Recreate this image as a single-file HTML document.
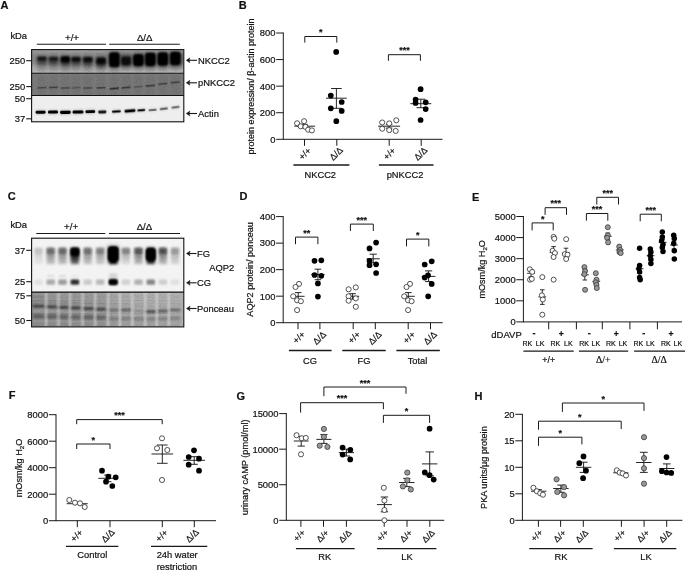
<!DOCTYPE html>
<html><head><meta charset="utf-8"><title>Figure</title>
<style>
html,body{margin:0;padding:0;background:#fff;}
body{width:685px;height:570px;overflow:hidden;font-family:"Liberation Sans",sans-serif;}
svg{display:block;will-change:transform;}
svg text{font-family:"Liberation Sans",sans-serif;fill:#111;stroke:#111;stroke-width:0.2px;}
</style></head><body>
<svg width="685" height="570" viewBox="0 0 685 570">
<defs>
<filter id="b1" x="-50%" y="-50%" width="200%" height="200%"><feGaussianBlur stdDeviation="1"/></filter>
<filter id="b15" x="-50%" y="-50%" width="200%" height="200%"><feGaussianBlur stdDeviation="1.5"/></filter>
<filter id="b2" x="-50%" y="-50%" width="200%" height="200%"><feGaussianBlur stdDeviation="2.2"/></filter>
<filter id="b05" x="-50%" y="-50%" width="200%" height="200%"><feGaussianBlur stdDeviation="0.6"/></filter>
<filter id="b07" x="-50%" y="-50%" width="200%" height="200%"><feGaussianBlur stdDeviation="0.8"/></filter>
<filter id="nz" x="0" y="0" width="100%" height="100%"><feTurbulence type="fractalNoise" baseFrequency="0.8" numOctaves="2" seed="7"/><feColorMatrix type="matrix" values="0 0 0 0 0  0 0 0 0 0  0 0 0 0 0  1.6 0 0 0 -0.45"/></filter>
<filter id="nzw" x="0" y="0" width="100%" height="100%"><feTurbulence type="fractalNoise" baseFrequency="0.8" numOctaves="2" seed="11"/><feColorMatrix type="matrix" values="0 0 0 0 1  0 0 0 0 1  0 0 0 0 1  1.6 0 0 0 -0.45"/></filter>
<linearGradient id="gA1" x1="0" y1="0" x2="0" y2="1"><stop offset="0" stop-color="#a2a2a2"/><stop offset="0.5" stop-color="#a8a8a8"/><stop offset="1" stop-color="#bdbdbd"/></linearGradient>
<linearGradient id="gP" x1="0" y1="0" x2="1" y2="0"><stop offset="0" stop-color="#989898"/><stop offset="0.45" stop-color="#9e9e9e"/><stop offset="0.58" stop-color="#b0b0b0"/><stop offset="1" stop-color="#b6b6b6"/></linearGradient>
<clipPath id="cA1"><rect x="32" y="50" width="151.5" height="23"/></clipPath>
<clipPath id="cA2"><rect x="32" y="73.5" width="151.5" height="22"/></clipPath>
<clipPath id="cA3"><rect x="32" y="95.5" width="151.5" height="26"/></clipPath>
<clipPath id="cC1"><rect x="32" y="238.5" width="151.5" height="53.5"/></clipPath>
<clipPath id="cC2"><rect x="32" y="292" width="151.5" height="34.8"/></clipPath>
</defs>
<rect width="685" height="570" fill="#fff"/>

<text x="0.6" y="8.9" font-size="11.0" font-weight="bold">A</text>
<text x="238.7" y="8.6" font-size="11.0" font-weight="bold">B</text>
<text x="7.7" y="200.4" font-size="11.0" font-weight="bold">C</text>
<text x="239.4" y="200.4" font-size="11.0" font-weight="bold">D</text>
<text x="472.0" y="200.6" font-size="11.0" font-weight="bold">E</text>
<text x="8.8" y="399.4" font-size="11.0" font-weight="bold">F</text>
<text x="236.6" y="400.0" font-size="11.0" font-weight="bold">G</text>
<text x="474.4" y="400.0" font-size="11.0" font-weight="bold">H</text>
<g id="panelA">
<text x="10.4" y="38.9" font-size="9.4">kDa</text>
<text x="72" y="41.3" font-size="9.8" text-anchor="middle">+/+</text>
<text x="144.7" y="41.3" font-size="9.6" text-anchor="middle">&#916;/&#916;</text>
<line x1="36.8" y1="44.3" x2="106" y2="44.3" stroke="#1a1a1a" stroke-width="1.1"/>
<line x1="109.2" y1="44.3" x2="179.8" y2="44.3" stroke="#1a1a1a" stroke-width="1.1"/>
<rect x="32" y="50" width="151.5" height="23.3" fill="url(#gA1)"/>
<rect x="32" y="73.3" width="151.5" height="22.2" fill="#7c7c7c"/>
<rect x="32" y="95.5" width="151.5" height="26" fill="#eeeeee"/>
<g clip-path="url(#cA1)">
<rect x="30" y="53" width="80" height="12" fill="#000" opacity="0.16" filter="url(#b2)"/>
<rect x="37.2" y="56" width="9.6" height="15" fill="#000" opacity="0.21" filter="url(#b2)"/>
<rect x="37.3" y="57.2" width="9.4" height="7.5" fill="#000" opacity="0.35" filter="url(#b15)"/>
<rect x="37.3" y="56.7" width="9.4" height="3.8" rx="1.5" fill="#000" opacity="0.80" filter="url(#b1)"/>
<rect x="48.7" y="56" width="9.6" height="15" fill="#000" opacity="0.22" filter="url(#b2)"/>
<rect x="48.8" y="57.4" width="9.4" height="7.5" fill="#000" opacity="0.36" filter="url(#b15)"/>
<rect x="48.8" y="56.9" width="9.4" height="3.8" rx="1.5" fill="#000" opacity="0.72" filter="url(#b1)"/>
<rect x="60.5" y="56" width="9.6" height="15" fill="#000" opacity="0.28" filter="url(#b2)"/>
<rect x="60.599999999999994" y="57.9" width="9.4" height="7.5" fill="#000" opacity="0.46" filter="url(#b15)"/>
<rect x="60.599999999999994" y="56.3" width="9.4" height="6.0" rx="1.5" fill="#000" opacity="1.00" filter="url(#b1)"/>
<rect x="71.2" y="56" width="9.6" height="15" fill="#000" opacity="0.23" filter="url(#b2)"/>
<rect x="71.3" y="57.800000000000004" width="9.4" height="7.5" fill="#000" opacity="0.39" filter="url(#b15)"/>
<rect x="71.3" y="57.0" width="9.4" height="4.4" rx="1.5" fill="#000" opacity="0.86" filter="url(#b1)"/>
<rect x="83.0" y="56" width="9.6" height="15" fill="#000" opacity="0.25" filter="url(#b2)"/>
<rect x="83.1" y="58.2" width="9.4" height="7.5" fill="#000" opacity="0.42" filter="url(#b15)"/>
<rect x="83.1" y="57.1" width="9.4" height="5.0" rx="1.5" fill="#000" opacity="0.84" filter="url(#b1)"/>
<rect x="96.2" y="56" width="9.6" height="15" fill="#000" opacity="0.31" filter="url(#b2)"/>
<rect x="96.3" y="59.2" width="9.4" height="7.5" fill="#000" opacity="0.52" filter="url(#b15)"/>
<rect x="96.3" y="57.4" width="9.4" height="6.4" rx="1.5" fill="#000" opacity="0.90" filter="url(#b1)"/>
<rect x="108.5" y="53" width="76" height="13" fill="#000" opacity="0.36" filter="url(#b2)"/>
<rect x="109.4" y="52.6" width="10.0" height="18.4" fill="#000" opacity="0.32" filter="url(#b2)"/>
<rect x="109.4" y="52.6" width="10.0" height="14.4" rx="2" fill="#000" opacity="1.0" filter="url(#b1)"/>
<rect x="109.80000000000001" y="53.4" width="9.2" height="12.2" rx="2" fill="#000" opacity="0.9" filter="url(#b07)"/>
<rect x="121.0" y="56.4" width="10.0" height="13.2" fill="#000" opacity="0.32" filter="url(#b2)"/>
<rect x="121.0" y="56.4" width="10.0" height="9.2" rx="2" fill="#000" opacity="0.82" filter="url(#b1)"/>
<rect x="133.4" y="54.4" width="10.0" height="15.6" fill="#000" opacity="0.32" filter="url(#b2)"/>
<rect x="133.4" y="54.4" width="10.0" height="11.6" rx="2" fill="#000" opacity="1.0" filter="url(#b1)"/>
<rect x="133.8" y="55.199999999999996" width="9.2" height="9.399999999999999" rx="2" fill="#000" opacity="0.9" filter="url(#b07)"/>
<rect x="145.3" y="53.0" width="10.0" height="17.0" fill="#000" opacity="0.32" filter="url(#b2)"/>
<rect x="145.3" y="53.0" width="10.0" height="13.0" rx="2" fill="#000" opacity="1.0" filter="url(#b1)"/>
<rect x="145.70000000000002" y="53.8" width="9.2" height="10.8" rx="2" fill="#000" opacity="0.9" filter="url(#b07)"/>
<rect x="157.8" y="52.6" width="10.0" height="17.0" fill="#000" opacity="0.32" filter="url(#b2)"/>
<rect x="157.8" y="52.6" width="10.0" height="13.0" rx="2" fill="#000" opacity="1.0" filter="url(#b1)"/>
<rect x="158.20000000000002" y="53.4" width="9.2" height="10.8" rx="2" fill="#000" opacity="0.9" filter="url(#b07)"/>
<rect x="170.3" y="52.0" width="10.0" height="17.0" fill="#000" opacity="0.32" filter="url(#b2)"/>
<rect x="170.3" y="52.0" width="10.0" height="13.0" rx="2" fill="#000" opacity="1.0" filter="url(#b1)"/>
<rect x="170.70000000000002" y="52.8" width="9.2" height="10.8" rx="2" fill="#000" opacity="0.9" filter="url(#b07)"/>
<rect x="46.85" y="50" width="1.8" height="24" fill="#fff" opacity="0.10" filter="url(#b07)"/>
<rect x="58.5" y="50" width="1.8" height="24" fill="#fff" opacity="0.10" filter="url(#b07)"/>
<rect x="69.75" y="50" width="1.8" height="24" fill="#fff" opacity="0.10" filter="url(#b07)"/>
<rect x="81.0" y="50" width="1.8" height="24" fill="#fff" opacity="0.10" filter="url(#b07)"/>
<rect x="93.5" y="50" width="1.8" height="24" fill="#fff" opacity="0.10" filter="url(#b07)"/>
<rect x="106.8" y="50" width="1.8" height="24" fill="#fff" opacity="0.10" filter="url(#b07)"/>
<rect x="119.3" y="50" width="1.8" height="24" fill="#fff" opacity="0.10" filter="url(#b07)"/>
<rect x="131.29999999999998" y="50" width="1.8" height="24" fill="#fff" opacity="0.10" filter="url(#b07)"/>
<rect x="143.45000000000002" y="50" width="1.8" height="24" fill="#fff" opacity="0.10" filter="url(#b07)"/>
<rect x="155.65" y="50" width="1.8" height="24" fill="#fff" opacity="0.10" filter="url(#b07)"/>
<rect x="168.15" y="50" width="1.8" height="24" fill="#fff" opacity="0.10" filter="url(#b07)"/>
<rect x="32" y="50" width="152" height="24" filter="url(#nz)" opacity="0.12"/>
</g>
<g clip-path="url(#cA2)">
<rect x="37.4" y="86.9" width="9.2" height="1.6" fill="#111" opacity="0.44" filter="url(#b05)" transform="rotate(-3 42 87.7)"/>
<rect x="37.5" y="75" width="9" height="20" fill="#000" opacity="0.05" filter="url(#b1)"/>
<rect x="48.9" y="86.60000000000001" width="9.2" height="1.6" fill="#111" opacity="0.50" filter="url(#b05)" transform="rotate(-3 53.5 87.4)"/>
<rect x="49.0" y="75" width="9" height="20" fill="#000" opacity="0.05" filter="url(#b1)"/>
<rect x="60.699999999999996" y="87.2" width="9.2" height="1.6" fill="#111" opacity="0.44" filter="url(#b05)" transform="rotate(-3 65.3 88.0)"/>
<rect x="60.8" y="75" width="9" height="20" fill="#000" opacity="0.05" filter="url(#b1)"/>
<rect x="71.4" y="86.8" width="9.2" height="1.6" fill="#111" opacity="0.31" filter="url(#b05)" transform="rotate(-3 76 87.6)"/>
<rect x="71.5" y="75" width="9" height="20" fill="#000" opacity="0.05" filter="url(#b1)"/>
<rect x="83.2" y="87.2" width="9.2" height="1.6" fill="#111" opacity="0.44" filter="url(#b05)" transform="rotate(-3 87.8 88.0)"/>
<rect x="83.3" y="75" width="9" height="20" fill="#000" opacity="0.05" filter="url(#b1)"/>
<rect x="96.4" y="87.0" width="9.2" height="1.6" fill="#111" opacity="0.53" filter="url(#b05)" transform="rotate(-3 101 87.8)"/>
<rect x="96.5" y="75" width="9" height="20" fill="#000" opacity="0.05" filter="url(#b1)"/>
<rect x="109.80000000000001" y="87.7" width="9.2" height="1.6" fill="#111" opacity="0.75" filter="url(#b05)" transform="rotate(-6 114.4 88.5)"/>
<rect x="109.9" y="75" width="9" height="20" fill="#000" opacity="0.05" filter="url(#b1)"/>
<rect x="121.4" y="86.8" width="9.2" height="1.6" fill="#111" opacity="0.62" filter="url(#b05)" transform="rotate(-6 126 87.6)"/>
<rect x="121.5" y="75" width="9" height="20" fill="#000" opacity="0.05" filter="url(#b1)"/>
<rect x="133.8" y="86.0" width="9.2" height="1.6" fill="#111" opacity="0.31" filter="url(#b05)" transform="rotate(-6 138.4 86.8)"/>
<rect x="133.9" y="75" width="9" height="20" fill="#000" opacity="0.05" filter="url(#b1)"/>
<rect x="145.70000000000002" y="84.9" width="9.2" height="1.6" fill="#111" opacity="0.62" filter="url(#b05)" transform="rotate(-6 150.3 85.7)"/>
<rect x="145.8" y="75" width="9" height="20" fill="#000" opacity="0.05" filter="url(#b1)"/>
<rect x="158.20000000000002" y="83.0" width="9.2" height="1.6" fill="#111" opacity="0.50" filter="url(#b05)" transform="rotate(-6 162.8 83.8)"/>
<rect x="158.3" y="75" width="9" height="20" fill="#000" opacity="0.05" filter="url(#b1)"/>
<rect x="170.70000000000002" y="81.60000000000001" width="9.2" height="1.6" fill="#111" opacity="0.53" filter="url(#b05)" transform="rotate(-6 175.3 82.4)"/>
<rect x="170.8" y="75" width="9" height="20" fill="#000" opacity="0.05" filter="url(#b1)"/>
<rect x="32" y="73" width="152" height="23" filter="url(#nz)" opacity="0.12"/>
<rect x="32" y="73" width="152" height="23" filter="url(#nzw)" opacity="0.06"/>
</g>
<g clip-path="url(#cA3)">
<rect x="35.6" y="110.7" width="10" height="3.0" rx="1.4" fill="#000" opacity="1.0" filter="url(#b05)" transform="rotate(-1 40.6 112.2)"/>
<rect x="35.6" y="110.10000000000001" width="10" height="4.2" rx="1.4" fill="#000" opacity="0.25" filter="url(#b1)" transform="rotate(-1 40.6 112.2)"/>
<rect x="48.0" y="110.6" width="10" height="3.0" rx="1.4" fill="#000" opacity="1.0" filter="url(#b05)" transform="rotate(-1 53 112.1)"/>
<rect x="48.0" y="110.0" width="10" height="4.2" rx="1.4" fill="#000" opacity="0.25" filter="url(#b1)" transform="rotate(-1 53 112.1)"/>
<rect x="60.10000000000001" y="110.64999999999999" width="10.6" height="3.3" rx="1.4" fill="#000" opacity="1.0" filter="url(#b05)" transform="rotate(-1 65.4 112.3)"/>
<rect x="60.10000000000001" y="110.05" width="10.6" height="4.5" rx="1.4" fill="#000" opacity="0.25" filter="url(#b1)" transform="rotate(-1 65.4 112.3)"/>
<rect x="72.6" y="110.4" width="10.8" height="3.2" rx="1.4" fill="#000" opacity="1.0" filter="url(#b05)" transform="rotate(-1 78 112.0)"/>
<rect x="72.6" y="109.80000000000001" width="10.8" height="4.4" rx="1.4" fill="#000" opacity="0.25" filter="url(#b1)" transform="rotate(-1 78 112.0)"/>
<rect x="85.39999999999999" y="110.14999999999999" width="9.8" height="2.9" rx="1.4" fill="#000" opacity="1.0" filter="url(#b05)" transform="rotate(-2 90.3 111.6)"/>
<rect x="85.39999999999999" y="109.55" width="9.8" height="4.1" rx="1.4" fill="#000" opacity="0.25" filter="url(#b1)" transform="rotate(-2 90.3 111.6)"/>
<rect x="98.2" y="110.4" width="8.2" height="3.0" rx="1.4" fill="#000" opacity="0.85" filter="url(#b05)" transform="rotate(-2 102.3 111.9)"/>
<rect x="98.2" y="109.80000000000001" width="8.2" height="4.2" rx="1.4" fill="#000" opacity="0.21" filter="url(#b1)" transform="rotate(-2 102.3 111.9)"/>
<rect x="111.9" y="110.4" width="9.0" height="2.0" rx="1.4" fill="#000" opacity="1.0" filter="url(#b05)" transform="rotate(-4 116.4 111.4)"/>
<rect x="111.9" y="109.80000000000001" width="9.0" height="3.2" rx="1.4" fill="#000" opacity="0.25" filter="url(#b1)" transform="rotate(-4 116.4 111.4)"/>
<rect x="124.5" y="109.5" width="11.0" height="2.8" rx="1.4" fill="#000" opacity="1.0" filter="url(#b05)" transform="rotate(-5 130 110.9)"/>
<rect x="124.5" y="108.9" width="11.0" height="4.0" rx="1.4" fill="#000" opacity="0.25" filter="url(#b1)" transform="rotate(-5 130 110.9)"/>
<rect x="137.3" y="109.35" width="8" height="1.9" rx="1.4" fill="#000" opacity="0.95" filter="url(#b05)" transform="rotate(-5 141.3 110.3)"/>
<rect x="137.3" y="108.75" width="8" height="3.0999999999999996" rx="1.4" fill="#000" opacity="0.24" filter="url(#b1)" transform="rotate(-5 141.3 110.3)"/>
<rect x="148.4" y="108.9" width="8.4" height="2.0" rx="1.4" fill="#000" opacity="0.5" filter="url(#b05)" transform="rotate(-5 152.6 109.9)"/>
<rect x="148.4" y="108.30000000000001" width="8.4" height="3.2" rx="1.4" fill="#000" opacity="0.12" filter="url(#b1)" transform="rotate(-5 152.6 109.9)"/>
<rect x="159.60000000000002" y="107.7" width="8.4" height="2.0" rx="1.4" fill="#000" opacity="0.55" filter="url(#b05)" transform="rotate(-7 163.8 108.7)"/>
<rect x="159.60000000000002" y="107.10000000000001" width="8.4" height="3.2" rx="1.4" fill="#000" opacity="0.14" filter="url(#b1)" transform="rotate(-7 163.8 108.7)"/>
<rect x="171.3" y="106.3" width="8.4" height="2.0" rx="1.4" fill="#000" opacity="0.5" filter="url(#b05)" transform="rotate(-7 175.5 107.3)"/>
<rect x="171.3" y="105.7" width="8.4" height="3.2" rx="1.4" fill="#000" opacity="0.12" filter="url(#b1)" transform="rotate(-7 175.5 107.3)"/>
</g>
<rect x="31.6" y="49.6" width="152.2" height="72.2" fill="none" stroke="#111" stroke-width="1.1"/>
<line x1="31.6" y1="73.3" x2="183.8" y2="73.3" stroke="#111" stroke-width="1.1"/>
<line x1="31.6" y1="95.5" x2="183.8" y2="95.5" stroke="#111" stroke-width="1.1"/>
<line x1="26.2" y1="60.7" x2="31.6" y2="60.7" stroke="#1a1a1a" stroke-width="1.1"/>
<text x="25.2" y="64.0" font-size="9.4" text-anchor="end">250</text>
<line x1="26.2" y1="86.6" x2="31.6" y2="86.6" stroke="#1a1a1a" stroke-width="1.1"/>
<text x="25.2" y="89.89999999999999" font-size="9.4" text-anchor="end">250</text>
<line x1="26.2" y1="98.7" x2="31.6" y2="98.7" stroke="#1a1a1a" stroke-width="1.1"/>
<text x="25.2" y="102.0" font-size="9.4" text-anchor="end">50</text>
<line x1="26.2" y1="118.8" x2="31.6" y2="118.8" stroke="#1a1a1a" stroke-width="1.1"/>
<text x="25.2" y="122.1" font-size="9.4" text-anchor="end">37</text>
<line x1="187.7" y1="60.3" x2="197" y2="60.3" stroke="#1a1a1a" stroke-width="1.1"/>
<path d="M186.2,60.3 L189.89999999999998,57.8 L189.2,60.3 L189.89999999999998,62.8 Z" fill="#1a1a1a" stroke="#1a1a1a" stroke-width="0.4" stroke-linejoin="round"/>
<text x="198" y="63.6" font-size="9.4">NKCC2</text>
<line x1="187.7" y1="82.8" x2="197" y2="82.8" stroke="#1a1a1a" stroke-width="1.1"/>
<path d="M186.2,82.8 L189.89999999999998,80.3 L189.2,82.8 L189.89999999999998,85.3 Z" fill="#1a1a1a" stroke="#1a1a1a" stroke-width="0.4" stroke-linejoin="round"/>
<text x="198" y="86.1" font-size="9.4">pNKCC2</text>
<line x1="187.7" y1="113.5" x2="197" y2="113.5" stroke="#1a1a1a" stroke-width="1.1"/>
<path d="M186.2,113.5 L189.89999999999998,111.0 L189.2,113.5 L189.89999999999998,116.0 Z" fill="#1a1a1a" stroke="#1a1a1a" stroke-width="0.4" stroke-linejoin="round"/>
<text x="198" y="116.8" font-size="9.4">Actin</text>
</g>
<g id="panelB">
<line x1="283.3" y1="32.5" x2="283.3" y2="139.8" stroke="#1a1a1a" stroke-width="1"/>
<line x1="276.2" y1="33.0" x2="283.3" y2="33.0" stroke="#1a1a1a" stroke-width="1"/>
<text x="275.5" y="36.35" font-size="9.4" text-anchor="end">800</text>
<line x1="276.2" y1="59.575" x2="283.3" y2="59.575" stroke="#1a1a1a" stroke-width="1"/>
<text x="275.5" y="62.925000000000004" font-size="9.4" text-anchor="end">600</text>
<line x1="276.2" y1="86.15" x2="283.3" y2="86.15" stroke="#1a1a1a" stroke-width="1"/>
<text x="275.5" y="89.5" font-size="9.4" text-anchor="end">400</text>
<line x1="276.2" y1="112.72500000000001" x2="283.3" y2="112.72500000000001" stroke="#1a1a1a" stroke-width="1"/>
<text x="275.5" y="116.075" font-size="9.4" text-anchor="end">200</text>
<line x1="276.2" y1="139.3" x2="283.3" y2="139.3" stroke="#1a1a1a" stroke-width="1"/>
<text x="275.5" y="142.65" font-size="9.4" text-anchor="end">0</text>
<line x1="283.3" y1="139.3" x2="442.5" y2="139.3" stroke="#1a1a1a" stroke-width="1"/>
<line x1="304.5" y1="139.3" x2="304.5" y2="145.8" stroke="#1a1a1a" stroke-width="1"/>
<line x1="336.8" y1="139.3" x2="336.8" y2="145.8" stroke="#1a1a1a" stroke-width="1"/>
<line x1="389.2" y1="139.3" x2="389.2" y2="145.8" stroke="#1a1a1a" stroke-width="1"/>
<line x1="421.2" y1="139.3" x2="421.2" y2="145.8" stroke="#1a1a1a" stroke-width="1"/>
<text x="253.8" y="86.45" font-size="9.02" text-anchor="middle" transform="rotate(-90 253.8 86.45)">protein expression/ &#946;-actin protein</text>
<line x1="294.3" y1="126.2" x2="315.09999999999997" y2="126.2" stroke="#1a1a1a" stroke-width="0.95"/>
<line x1="304.7" y1="124.4" x2="304.7" y2="128.0" stroke="#1a1a1a" stroke-width="0.95"/>
<line x1="301.7" y1="124.4" x2="307.7" y2="124.4" stroke="#1a1a1a" stroke-width="0.95"/>
<line x1="301.7" y1="128.0" x2="307.7" y2="128.0" stroke="#1a1a1a" stroke-width="0.95"/>
<circle cx="297.1" cy="123.3" r="2.55" fill="#fff" stroke="#2a2a2a" stroke-width="0.8"/>
<circle cx="304.1" cy="121.2" r="2.55" fill="#fff" stroke="#2a2a2a" stroke-width="0.8"/>
<circle cx="300.7" cy="126.3" r="2.55" fill="#fff" stroke="#2a2a2a" stroke-width="0.8"/>
<circle cx="305.4" cy="126.9" r="2.55" fill="#fff" stroke="#2a2a2a" stroke-width="0.8"/>
<circle cx="308.2" cy="129.7" r="2.55" fill="#fff" stroke="#2a2a2a" stroke-width="0.8"/>
<circle cx="311.9" cy="130.4" r="2.55" fill="#fff" stroke="#2a2a2a" stroke-width="0.8"/>
<line x1="326.0" y1="98.2" x2="346.79999999999995" y2="98.2" stroke="#1a1a1a" stroke-width="0.95"/>
<line x1="336.4" y1="88.5" x2="336.4" y2="108.3" stroke="#1a1a1a" stroke-width="0.95"/>
<line x1="331.09999999999997" y1="88.5" x2="341.7" y2="88.5" stroke="#1a1a1a" stroke-width="0.95"/>
<line x1="331.09999999999997" y1="108.3" x2="341.7" y2="108.3" stroke="#1a1a1a" stroke-width="0.95"/>
<circle cx="336.2" cy="51.9" r="2.85" fill="#000"/>
<circle cx="330.8" cy="95.6" r="2.85" fill="#000"/>
<circle cx="341.7" cy="102.0" r="2.85" fill="#000"/>
<circle cx="330.8" cy="108.3" r="2.85" fill="#000"/>
<circle cx="341.7" cy="110.9" r="2.85" fill="#000"/>
<circle cx="336.3" cy="121.2" r="2.85" fill="#000"/>
<polyline points="304.8,42.6 304.8,36.5 336.8,36.5 336.8,42.6" fill="none" stroke="#1a1a1a" stroke-width="1.0"/>
<text x="320.8" y="35.124" font-size="9.0" text-anchor="middle" font-weight="bold">*</text>
<line x1="378.1" y1="126.2" x2="400.1" y2="126.2" stroke="#1a1a1a" stroke-width="0.95"/>
<line x1="389.1" y1="124.5" x2="389.1" y2="128.1" stroke="#1a1a1a" stroke-width="0.95"/>
<line x1="385.90000000000003" y1="124.5" x2="392.3" y2="124.5" stroke="#1a1a1a" stroke-width="0.95"/>
<line x1="385.90000000000003" y1="128.1" x2="392.3" y2="128.1" stroke="#1a1a1a" stroke-width="0.95"/>
<circle cx="382.2" cy="122.5" r="2.55" fill="#fff" stroke="#2a2a2a" stroke-width="0.8"/>
<circle cx="389.2" cy="123.4" r="2.55" fill="#fff" stroke="#2a2a2a" stroke-width="0.8"/>
<circle cx="396.3" cy="120.3" r="2.55" fill="#fff" stroke="#2a2a2a" stroke-width="0.8"/>
<circle cx="382.2" cy="128.7" r="2.55" fill="#fff" stroke="#2a2a2a" stroke-width="0.8"/>
<circle cx="389.2" cy="130.1" r="2.55" fill="#fff" stroke="#2a2a2a" stroke-width="0.8"/>
<circle cx="395.7" cy="130.9" r="2.55" fill="#fff" stroke="#2a2a2a" stroke-width="0.8"/>
<line x1="410.3" y1="103.7" x2="431.3" y2="103.7" stroke="#1a1a1a" stroke-width="0.95"/>
<line x1="420.8" y1="99.2" x2="420.8" y2="107.7" stroke="#1a1a1a" stroke-width="0.95"/>
<line x1="416.5" y1="99.2" x2="425.1" y2="99.2" stroke="#1a1a1a" stroke-width="0.95"/>
<line x1="416.5" y1="107.7" x2="425.1" y2="107.7" stroke="#1a1a1a" stroke-width="0.95"/>
<circle cx="420.6" cy="89.2" r="2.85" fill="#000"/>
<circle cx="415.6" cy="99.5" r="2.85" fill="#000"/>
<circle cx="415.6" cy="102.9" r="2.85" fill="#000"/>
<circle cx="425.7" cy="102.3" r="2.85" fill="#000"/>
<circle cx="425.7" cy="109.1" r="2.85" fill="#000"/>
<circle cx="420.6" cy="120.0" r="2.85" fill="#000"/>
<polyline points="388.4,60.8 388.4,54.7 420.4,54.7 420.4,60.8" fill="none" stroke="#1a1a1a" stroke-width="1.0"/>
<text x="404.4" y="53.324000000000005" font-size="9.0" text-anchor="middle" font-weight="bold">***</text>
<text x="307.0" y="155.8" font-size="9.0" text-anchor="middle" transform="rotate(-45 307.0 155.8)">+/+</text>
<text x="338.5" y="155.9" font-size="9.0" text-anchor="middle" transform="rotate(-45 338.5 155.9)">&#916;/&#916;</text>
<text x="391.7" y="155.8" font-size="9.0" text-anchor="middle" transform="rotate(-45 391.7 155.8)">+/+</text>
<text x="422.9" y="155.9" font-size="9.0" text-anchor="middle" transform="rotate(-45 422.9 155.9)">&#916;/&#916;</text>
<line x1="293.4" y1="164.9" x2="349.4" y2="164.9" stroke="#1a1a1a" stroke-width="1.5"/>
<line x1="378.9" y1="164.9" x2="433.5" y2="164.9" stroke="#1a1a1a" stroke-width="1.5"/>
<text x="320.3" y="177.8" font-size="9.3" text-anchor="middle">NKCC2</text>
<text x="405.0" y="177.8" font-size="9.3" text-anchor="middle">pNKCC2</text>
</g>
<g id="panelC">
<text x="10.4" y="228.0" font-size="9.4">kDa</text>
<text x="71.2" y="230.4" font-size="9.8" text-anchor="middle">+/+</text>
<text x="144.4" y="230.4" font-size="9.6" text-anchor="middle">&#916;/&#916;</text>
<line x1="36.3" y1="233.5" x2="105.3" y2="233.5" stroke="#1a1a1a" stroke-width="1.1"/>
<line x1="109.0" y1="233.5" x2="180.0" y2="233.5" stroke="#1a1a1a" stroke-width="1.1"/>
<rect x="32" y="238.5" width="151.5" height="53.5" fill="#f3f3f3"/>
<rect x="32" y="292" width="151.5" height="34.8" fill="url(#gP)"/>
<g clip-path="url(#cC1)">
<rect x="34.4" y="247.5" width="8.2" height="16.5" fill="#000" opacity="0.08" filter="url(#b15)"/>
<rect x="34.4" y="247.8" width="8.2" height="6.4" rx="1.5" fill="#000" opacity="0.10" filter="url(#b1)"/>
<rect x="34.4" y="248.5" width="8.2" height="10.5" rx="1.5" fill="#000" opacity="0.04" filter="url(#b15)"/>
<rect x="46.6" y="247.5" width="8.2" height="16.5" fill="#000" opacity="0.26" filter="url(#b15)"/>
<rect x="46.6" y="247.8" width="8.2" height="6.4" rx="1.5" fill="#000" opacity="0.36" filter="url(#b1)"/>
<rect x="46.6" y="248.5" width="8.2" height="10.5" rx="1.5" fill="#000" opacity="0.14" filter="url(#b15)"/>
<rect x="58.4" y="247.5" width="8.2" height="16.5" fill="#000" opacity="0.28" filter="url(#b15)"/>
<rect x="58.4" y="247.8" width="8.2" height="6.4" rx="1.5" fill="#000" opacity="0.37" filter="url(#b1)"/>
<rect x="58.4" y="248.5" width="8.2" height="10.5" rx="1.5" fill="#000" opacity="0.14" filter="url(#b15)"/>
<rect x="83.60000000000001" y="247.5" width="8.2" height="16.5" fill="#000" opacity="0.26" filter="url(#b15)"/>
<rect x="83.60000000000001" y="247.8" width="8.2" height="6.4" rx="1.5" fill="#000" opacity="0.34" filter="url(#b1)"/>
<rect x="83.60000000000001" y="248.5" width="8.2" height="10.5" rx="1.5" fill="#000" opacity="0.13" filter="url(#b15)"/>
<rect x="96.10000000000001" y="247.5" width="8.2" height="16.5" fill="#000" opacity="0.22" filter="url(#b15)"/>
<rect x="96.10000000000001" y="247.8" width="8.2" height="6.4" rx="1.5" fill="#000" opacity="0.29" filter="url(#b1)"/>
<rect x="96.10000000000001" y="248.5" width="8.2" height="10.5" rx="1.5" fill="#000" opacity="0.11" filter="url(#b15)"/>
<rect x="121.80000000000001" y="247.5" width="8.2" height="16.5" fill="#000" opacity="0.14" filter="url(#b15)"/>
<rect x="121.80000000000001" y="247.8" width="8.2" height="6.4" rx="1.5" fill="#000" opacity="0.32" filter="url(#b1)"/>
<rect x="121.80000000000001" y="248.5" width="8.2" height="10.5" rx="1.5" fill="#000" opacity="0.12" filter="url(#b15)"/>
<rect x="134.4" y="247.5" width="8.2" height="16.5" fill="#000" opacity="0.30" filter="url(#b15)"/>
<rect x="134.4" y="247.8" width="8.2" height="6.4" rx="1.5" fill="#000" opacity="0.46" filter="url(#b1)"/>
<rect x="134.4" y="248.5" width="8.2" height="10.5" rx="1.5" fill="#000" opacity="0.17" filter="url(#b15)"/>
<rect x="158.8" y="247.5" width="8.2" height="16.5" fill="#000" opacity="0.30" filter="url(#b15)"/>
<rect x="158.8" y="247.8" width="8.2" height="6.4" rx="1.5" fill="#000" opacity="0.50" filter="url(#b1)"/>
<rect x="158.8" y="248.5" width="8.2" height="10.5" rx="1.5" fill="#000" opacity="0.19" filter="url(#b15)"/>
<rect x="170.9" y="247.5" width="8.2" height="16.5" fill="#000" opacity="0.16" filter="url(#b15)"/>
<rect x="170.9" y="247.8" width="8.2" height="6.4" rx="1.5" fill="#000" opacity="0.21" filter="url(#b1)"/>
<rect x="170.9" y="248.5" width="8.2" height="10.5" rx="1.5" fill="#000" opacity="0.08" filter="url(#b15)"/>
<rect x="32" y="244" width="152" height="24" filter="url(#nzw)" opacity="0.16"/>
<rect x="70.80000000000001" y="247.5" width="8.2" height="16.5" fill="#000" opacity="0.62" filter="url(#b15)"/>
<rect x="70.4" y="247.8" width="9.0" height="8.4" rx="2" fill="#000" filter="url(#b1)"/>
<rect x="70.9" y="248.6" width="8" height="5.6" rx="2" fill="#000" opacity="0.7" filter="url(#b07)"/>
<rect x="70.60000000000001" y="254" width="8.6" height="6" fill="#000" opacity="0.45" filter="url(#b15)"/>
<rect x="109.10000000000001" y="247.5" width="8.2" height="16.5" fill="#000" opacity="1.00" filter="url(#b15)"/>
<rect x="108.0" y="246" width="10.4" height="16" fill="#000" opacity="0.5" filter="url(#b2)"/>
<rect x="108.2" y="246.8" width="10.0" height="14.4" rx="2.5" fill="#000" filter="url(#b1)"/>
<rect x="108.60000000000001" y="247.6" width="9.2" height="12.6" rx="2.5" fill="#000" filter="url(#b07)"/>
<rect x="146.70000000000002" y="247.5" width="8.2" height="16.5" fill="#000" opacity="0.85" filter="url(#b15)"/>
<rect x="146.0" y="248.2" width="9.6" height="12.8" rx="2.5" fill="#000" filter="url(#b1)"/>
<rect x="146.5" y="249" width="8.6" height="10.6" rx="2.5" fill="#000" opacity="0.9" filter="url(#b07)"/>
<rect x="34.3" y="279.59999999999997" width="8.4" height="5.2" rx="1.2" fill="#000" opacity="0.07" filter="url(#b1)"/>
<rect x="46.5" y="279.59999999999997" width="8.4" height="5.2" rx="1.2" fill="#000" opacity="0.30" filter="url(#b1)"/>
<rect x="58.3" y="279.59999999999997" width="8.4" height="5.2" rx="1.2" fill="#000" opacity="0.36" filter="url(#b1)"/>
<rect x="70.7" y="279.59999999999997" width="8.4" height="5.2" rx="1.2" fill="#000" opacity="0.72" filter="url(#b1)"/>
<rect x="70.9" y="280.6" width="8.0" height="2.8" rx="1.2" fill="#000" opacity="0.4" filter="url(#b07)"/>
<rect x="83.5" y="279.59999999999997" width="8.4" height="5.2" rx="1.2" fill="#000" opacity="0.17" filter="url(#b1)"/>
<rect x="96.0" y="279.59999999999997" width="8.4" height="5.2" rx="1.2" fill="#000" opacity="0.24" filter="url(#b1)"/>
<rect x="109.0" y="279.59999999999997" width="8.4" height="5.2" rx="1.2" fill="#000" opacity="1.00" filter="url(#b1)"/>
<rect x="109.0" y="279.6" width="8.4" height="4.8" rx="1.5" fill="#000" opacity="1" filter="url(#b07)"/>
<rect x="109.2" y="273.5" width="8" height="5" fill="#000" opacity="0.14" filter="url(#b15)"/>
<rect x="121.7" y="279.59999999999997" width="8.4" height="5.2" rx="1.2" fill="#000" opacity="0.14" filter="url(#b1)"/>
<rect x="134.3" y="279.59999999999997" width="8.4" height="5.2" rx="1.2" fill="#000" opacity="0.28" filter="url(#b1)"/>
<rect x="146.60000000000002" y="279.59999999999997" width="8.4" height="5.2" rx="1.2" fill="#000" opacity="0.46" filter="url(#b1)"/>
<rect x="158.70000000000002" y="279.59999999999997" width="8.4" height="5.2" rx="1.2" fill="#000" opacity="0.15" filter="url(#b1)"/>
<rect x="170.8" y="279.59999999999997" width="8.4" height="5.2" rx="1.2" fill="#000" opacity="0.08" filter="url(#b1)"/>
<rect x="47.2" y="275.3" width="7" height="1.2" fill="#000" opacity="0.16" filter="url(#b07)"/>
<rect x="59.0" y="275.3" width="7" height="1.2" fill="#000" opacity="0.18" filter="url(#b07)"/>
<rect x="71.4" y="275.3" width="7" height="1.2" fill="#000" opacity="0.1" filter="url(#b07)"/>
</g>
<g clip-path="url(#cC2)">
<rect x="32.9" y="304.59999999999997" width="11.2" height="3.2" fill="#000" opacity="0.58" filter="url(#b07)"/>
<rect x="32.9" y="314.0" width="11.2" height="4.8" fill="#000" opacity="0.36" filter="url(#b1)"/>
<rect x="32.9" y="300.0" width="11.2" height="1.2" fill="#000" opacity="0.07" filter="url(#b05)"/>
<rect x="32.9" y="302.6" width="11.2" height="1.2" fill="#000" opacity="0.06" filter="url(#b05)"/>
<rect x="32.9" y="313.0" width="11.2" height="1.2" fill="#000" opacity="0.08" filter="url(#b05)"/>
<rect x="32.9" y="325.0" width="11.2" height="1.2" fill="#000" opacity="0.08" filter="url(#b05)"/>
<rect x="32.9" y="300.2" width="11.2" height="2" fill="#000" opacity="0.10" filter="url(#b07)"/>
<rect x="32.9" y="322.6" width="11.2" height="2.4" fill="#000" opacity="0.12" filter="url(#b07)"/>
<rect x="32.9" y="296.0" width="11.2" height="1.6" fill="#000" opacity="0.22" filter="url(#b07)"/>
<rect x="45.1" y="305.2" width="11.2" height="3.2" fill="#000" opacity="0.6" filter="url(#b07)"/>
<rect x="45.1" y="314.20000000000005" width="11.2" height="4.8" fill="#000" opacity="0.36" filter="url(#b1)"/>
<rect x="45.1" y="300.0" width="11.2" height="1.2" fill="#000" opacity="0.07" filter="url(#b05)"/>
<rect x="45.1" y="302.6" width="11.2" height="1.2" fill="#000" opacity="0.06" filter="url(#b05)"/>
<rect x="45.1" y="313.0" width="11.2" height="1.2" fill="#000" opacity="0.08" filter="url(#b05)"/>
<rect x="45.1" y="325.0" width="11.2" height="1.2" fill="#000" opacity="0.08" filter="url(#b05)"/>
<rect x="45.1" y="300.8" width="11.2" height="2" fill="#000" opacity="0.10" filter="url(#b07)"/>
<rect x="45.1" y="322.6" width="11.2" height="2.4" fill="#000" opacity="0.12" filter="url(#b07)"/>
<rect x="45.1" y="296.0" width="11.2" height="1.6" fill="#000" opacity="0.07" filter="url(#b07)"/>
<rect x="56.9" y="305.79999999999995" width="11.2" height="3.2" fill="#000" opacity="0.6" filter="url(#b07)"/>
<rect x="56.9" y="314.5" width="11.2" height="4.8" fill="#000" opacity="0.36" filter="url(#b1)"/>
<rect x="56.9" y="300.0" width="11.2" height="1.2" fill="#000" opacity="0.07" filter="url(#b05)"/>
<rect x="56.9" y="302.6" width="11.2" height="1.2" fill="#000" opacity="0.06" filter="url(#b05)"/>
<rect x="56.9" y="313.0" width="11.2" height="1.2" fill="#000" opacity="0.08" filter="url(#b05)"/>
<rect x="56.9" y="325.0" width="11.2" height="1.2" fill="#000" opacity="0.08" filter="url(#b05)"/>
<rect x="56.9" y="301.4" width="11.2" height="2" fill="#000" opacity="0.10" filter="url(#b07)"/>
<rect x="56.9" y="322.6" width="11.2" height="2.4" fill="#000" opacity="0.12" filter="url(#b07)"/>
<rect x="56.9" y="296.0" width="11.2" height="1.6" fill="#000" opacity="0.07" filter="url(#b07)"/>
<rect x="69.30000000000001" y="306.29999999999995" width="11.2" height="3.2" fill="#000" opacity="0.62" filter="url(#b07)"/>
<rect x="69.30000000000001" y="314.8" width="11.2" height="4.8" fill="#000" opacity="0.36" filter="url(#b1)"/>
<rect x="69.30000000000001" y="300.0" width="11.2" height="1.2" fill="#000" opacity="0.07" filter="url(#b05)"/>
<rect x="69.30000000000001" y="302.6" width="11.2" height="1.2" fill="#000" opacity="0.06" filter="url(#b05)"/>
<rect x="69.30000000000001" y="313.0" width="11.2" height="1.2" fill="#000" opacity="0.08" filter="url(#b05)"/>
<rect x="69.30000000000001" y="325.0" width="11.2" height="1.2" fill="#000" opacity="0.08" filter="url(#b05)"/>
<rect x="69.30000000000001" y="301.9" width="11.2" height="2" fill="#000" opacity="0.10" filter="url(#b07)"/>
<rect x="69.30000000000001" y="322.6" width="11.2" height="2.4" fill="#000" opacity="0.12" filter="url(#b07)"/>
<rect x="69.30000000000001" y="296.0" width="11.2" height="1.6" fill="#000" opacity="0.07" filter="url(#b07)"/>
<rect x="82.10000000000001" y="307.0" width="11.2" height="3.2" fill="#000" opacity="0.6" filter="url(#b07)"/>
<rect x="82.10000000000001" y="315.0" width="11.2" height="4.8" fill="#000" opacity="0.36" filter="url(#b1)"/>
<rect x="82.10000000000001" y="300.0" width="11.2" height="1.2" fill="#000" opacity="0.07" filter="url(#b05)"/>
<rect x="82.10000000000001" y="302.6" width="11.2" height="1.2" fill="#000" opacity="0.06" filter="url(#b05)"/>
<rect x="82.10000000000001" y="313.0" width="11.2" height="1.2" fill="#000" opacity="0.08" filter="url(#b05)"/>
<rect x="82.10000000000001" y="325.0" width="11.2" height="1.2" fill="#000" opacity="0.08" filter="url(#b05)"/>
<rect x="82.10000000000001" y="302.6" width="11.2" height="2" fill="#000" opacity="0.10" filter="url(#b07)"/>
<rect x="82.10000000000001" y="322.6" width="11.2" height="2.4" fill="#000" opacity="0.12" filter="url(#b07)"/>
<rect x="82.10000000000001" y="296.0" width="11.2" height="1.6" fill="#000" opacity="0.07" filter="url(#b07)"/>
<rect x="94.60000000000001" y="307.59999999999997" width="11.2" height="3.2" fill="#000" opacity="0.6" filter="url(#b07)"/>
<rect x="94.60000000000001" y="315.20000000000005" width="11.2" height="4.8" fill="#000" opacity="0.36" filter="url(#b1)"/>
<rect x="94.60000000000001" y="300.0" width="11.2" height="1.2" fill="#000" opacity="0.07" filter="url(#b05)"/>
<rect x="94.60000000000001" y="302.6" width="11.2" height="1.2" fill="#000" opacity="0.06" filter="url(#b05)"/>
<rect x="94.60000000000001" y="313.0" width="11.2" height="1.2" fill="#000" opacity="0.08" filter="url(#b05)"/>
<rect x="94.60000000000001" y="325.0" width="11.2" height="1.2" fill="#000" opacity="0.08" filter="url(#b05)"/>
<rect x="94.60000000000001" y="303.2" width="11.2" height="2" fill="#000" opacity="0.10" filter="url(#b07)"/>
<rect x="94.60000000000001" y="322.6" width="11.2" height="2.4" fill="#000" opacity="0.12" filter="url(#b07)"/>
<rect x="94.60000000000001" y="296.0" width="11.2" height="1.6" fill="#000" opacity="0.07" filter="url(#b07)"/>
<rect x="107.60000000000001" y="308.4" width="11.2" height="3.2" fill="#000" opacity="0.36" filter="url(#b07)"/>
<rect x="107.60000000000001" y="316.20000000000005" width="11.2" height="4.8" fill="#000" opacity="0.24" filter="url(#b1)"/>
<rect x="107.60000000000001" y="300.0" width="11.2" height="1.2" fill="#000" opacity="0.07" filter="url(#b05)"/>
<rect x="107.60000000000001" y="302.6" width="11.2" height="1.2" fill="#000" opacity="0.06" filter="url(#b05)"/>
<rect x="107.60000000000001" y="313.0" width="11.2" height="1.2" fill="#000" opacity="0.08" filter="url(#b05)"/>
<rect x="107.60000000000001" y="325.0" width="11.2" height="1.2" fill="#000" opacity="0.08" filter="url(#b05)"/>
<rect x="107.60000000000001" y="304.0" width="11.2" height="2" fill="#000" opacity="0.10" filter="url(#b07)"/>
<rect x="107.60000000000001" y="322.6" width="11.2" height="2.4" fill="#000" opacity="0.12" filter="url(#b07)"/>
<rect x="107.60000000000001" y="296.0" width="11.2" height="1.6" fill="#000" opacity="0.07" filter="url(#b07)"/>
<rect x="120.30000000000001" y="308.4" width="11.2" height="3.2" fill="#000" opacity="0.46" filter="url(#b07)"/>
<rect x="120.30000000000001" y="316.20000000000005" width="11.2" height="4.8" fill="#000" opacity="0.24" filter="url(#b1)"/>
<rect x="120.30000000000001" y="300.0" width="11.2" height="1.2" fill="#000" opacity="0.07" filter="url(#b05)"/>
<rect x="120.30000000000001" y="302.6" width="11.2" height="1.2" fill="#000" opacity="0.06" filter="url(#b05)"/>
<rect x="120.30000000000001" y="313.0" width="11.2" height="1.2" fill="#000" opacity="0.08" filter="url(#b05)"/>
<rect x="120.30000000000001" y="325.0" width="11.2" height="1.2" fill="#000" opacity="0.08" filter="url(#b05)"/>
<rect x="120.30000000000001" y="304.0" width="11.2" height="2" fill="#000" opacity="0.10" filter="url(#b07)"/>
<rect x="120.30000000000001" y="322.6" width="11.2" height="2.4" fill="#000" opacity="0.12" filter="url(#b07)"/>
<rect x="120.30000000000001" y="296.0" width="11.2" height="1.6" fill="#000" opacity="0.07" filter="url(#b07)"/>
<rect x="132.9" y="309.4" width="11.2" height="3.2" fill="#000" opacity="0.18" filter="url(#b07)"/>
<rect x="132.9" y="316.40000000000003" width="11.2" height="4.8" fill="#000" opacity="0.24" filter="url(#b1)"/>
<rect x="132.9" y="300.0" width="11.2" height="1.2" fill="#000" opacity="0.07" filter="url(#b05)"/>
<rect x="132.9" y="302.6" width="11.2" height="1.2" fill="#000" opacity="0.06" filter="url(#b05)"/>
<rect x="132.9" y="313.0" width="11.2" height="1.2" fill="#000" opacity="0.08" filter="url(#b05)"/>
<rect x="132.9" y="325.0" width="11.2" height="1.2" fill="#000" opacity="0.08" filter="url(#b05)"/>
<rect x="132.9" y="305.0" width="11.2" height="2" fill="#000" opacity="0.10" filter="url(#b07)"/>
<rect x="132.9" y="322.6" width="11.2" height="2.4" fill="#000" opacity="0.12" filter="url(#b07)"/>
<rect x="132.9" y="296.0" width="11.2" height="1.6" fill="#000" opacity="0.07" filter="url(#b07)"/>
<rect x="145.20000000000002" y="310.0" width="11.2" height="3.2" fill="#000" opacity="0.56" filter="url(#b07)"/>
<rect x="145.20000000000002" y="316.6" width="11.2" height="4.8" fill="#000" opacity="0.24" filter="url(#b1)"/>
<rect x="145.20000000000002" y="300.0" width="11.2" height="1.2" fill="#000" opacity="0.07" filter="url(#b05)"/>
<rect x="145.20000000000002" y="302.6" width="11.2" height="1.2" fill="#000" opacity="0.06" filter="url(#b05)"/>
<rect x="145.20000000000002" y="313.0" width="11.2" height="1.2" fill="#000" opacity="0.08" filter="url(#b05)"/>
<rect x="145.20000000000002" y="325.0" width="11.2" height="1.2" fill="#000" opacity="0.08" filter="url(#b05)"/>
<rect x="145.20000000000002" y="305.6" width="11.2" height="2" fill="#000" opacity="0.10" filter="url(#b07)"/>
<rect x="145.20000000000002" y="322.6" width="11.2" height="2.4" fill="#000" opacity="0.12" filter="url(#b07)"/>
<rect x="145.20000000000002" y="296.0" width="11.2" height="1.6" fill="#000" opacity="0.07" filter="url(#b07)"/>
<rect x="157.3" y="309.4" width="11.2" height="3.2" fill="#000" opacity="0.48" filter="url(#b07)"/>
<rect x="157.3" y="316.40000000000003" width="11.2" height="4.8" fill="#000" opacity="0.24" filter="url(#b1)"/>
<rect x="157.3" y="300.0" width="11.2" height="1.2" fill="#000" opacity="0.07" filter="url(#b05)"/>
<rect x="157.3" y="302.6" width="11.2" height="1.2" fill="#000" opacity="0.06" filter="url(#b05)"/>
<rect x="157.3" y="313.0" width="11.2" height="1.2" fill="#000" opacity="0.08" filter="url(#b05)"/>
<rect x="157.3" y="325.0" width="11.2" height="1.2" fill="#000" opacity="0.08" filter="url(#b05)"/>
<rect x="157.3" y="305.0" width="11.2" height="2" fill="#000" opacity="0.10" filter="url(#b07)"/>
<rect x="157.3" y="322.6" width="11.2" height="2.4" fill="#000" opacity="0.12" filter="url(#b07)"/>
<rect x="157.3" y="296.0" width="11.2" height="1.6" fill="#000" opacity="0.07" filter="url(#b07)"/>
<rect x="169.4" y="308.4" width="11.2" height="3.2" fill="#000" opacity="0.42" filter="url(#b07)"/>
<rect x="169.4" y="316.0" width="11.2" height="4.8" fill="#000" opacity="0.24" filter="url(#b1)"/>
<rect x="169.4" y="300.0" width="11.2" height="1.2" fill="#000" opacity="0.07" filter="url(#b05)"/>
<rect x="169.4" y="302.6" width="11.2" height="1.2" fill="#000" opacity="0.06" filter="url(#b05)"/>
<rect x="169.4" y="313.0" width="11.2" height="1.2" fill="#000" opacity="0.08" filter="url(#b05)"/>
<rect x="169.4" y="325.0" width="11.2" height="1.2" fill="#000" opacity="0.08" filter="url(#b05)"/>
<rect x="169.4" y="304.0" width="11.2" height="2" fill="#000" opacity="0.10" filter="url(#b07)"/>
<rect x="169.4" y="322.6" width="11.2" height="2.4" fill="#000" opacity="0.12" filter="url(#b07)"/>
<rect x="169.4" y="296.0" width="11.2" height="1.6" fill="#000" opacity="0.07" filter="url(#b07)"/>
<rect x="45.2" y="292" width="2.0" height="35" fill="#e8e8e8" opacity="0.72" filter="url(#b07)"/>
<rect x="57.6" y="292" width="2.0" height="35" fill="#e8e8e8" opacity="0.72" filter="url(#b07)"/>
<rect x="69.1" y="292" width="2.0" height="35" fill="#e8e8e8" opacity="0.72" filter="url(#b07)"/>
<rect x="81.7" y="292" width="2.0" height="35" fill="#e8e8e8" opacity="0.72" filter="url(#b07)"/>
<rect x="94.3" y="292" width="2.0" height="35" fill="#e8e8e8" opacity="0.72" filter="url(#b07)"/>
<rect x="107.2" y="292" width="2.0" height="35" fill="#e8e8e8" opacity="0.72" filter="url(#b07)"/>
<rect x="119.0" y="292" width="2.0" height="35" fill="#e8e8e8" opacity="0.72" filter="url(#b07)"/>
<rect x="131.3" y="292" width="2.0" height="35" fill="#e8e8e8" opacity="0.72" filter="url(#b07)"/>
<rect x="144.2" y="292" width="2.0" height="35" fill="#e8e8e8" opacity="0.72" filter="url(#b07)"/>
<rect x="155.8" y="292" width="2.0" height="35" fill="#e8e8e8" opacity="0.72" filter="url(#b07)"/>
<rect x="167.8" y="292" width="2.0" height="35" fill="#e8e8e8" opacity="0.72" filter="url(#b07)"/>
<rect x="32" y="292" width="152" height="35" filter="url(#nz)" opacity="0.12"/>
<rect x="32" y="292" width="152" height="35" filter="url(#nzw)" opacity="0.08"/>
</g>
<rect x="31.6" y="238.2" width="152.2" height="88.7" fill="none" stroke="#111" stroke-width="1.1"/>
<line x1="31.6" y1="292.1" x2="183.8" y2="292.1" stroke="#111" stroke-width="1.1"/>
<line x1="26.3" y1="250.3" x2="31.6" y2="250.3" stroke="#1a1a1a" stroke-width="1.1"/>
<text x="25.3" y="253.60000000000002" font-size="9.4" text-anchor="end">37</text>
<line x1="26.3" y1="281.7" x2="31.6" y2="281.7" stroke="#1a1a1a" stroke-width="1.1"/>
<text x="25.3" y="285.0" font-size="9.4" text-anchor="end">25</text>
<line x1="26.3" y1="295.8" x2="31.6" y2="295.8" stroke="#1a1a1a" stroke-width="1.1"/>
<text x="25.3" y="299.1" font-size="9.4" text-anchor="end">75</text>
<line x1="26.3" y1="320.5" x2="31.6" y2="320.5" stroke="#1a1a1a" stroke-width="1.1"/>
<text x="25.3" y="323.8" font-size="9.4" text-anchor="end">50</text>
<line x1="187.9" y1="253.5" x2="196.6" y2="253.5" stroke="#1a1a1a" stroke-width="1.1"/>
<path d="M186.4,253.5 L190.1,251.0 L189.4,253.5 L190.1,256.0 Z" fill="#1a1a1a" stroke="#1a1a1a" stroke-width="0.4" stroke-linejoin="round"/>
<text x="197.0" y="256.8" font-size="9.4">FG</text>
<text x="209.2" y="270.8" font-size="9.4">AQP2</text>
<line x1="187.9" y1="282.8" x2="196.6" y2="282.8" stroke="#1a1a1a" stroke-width="1.1"/>
<path d="M186.4,282.8 L190.1,280.3 L189.4,282.8 L190.1,285.3 Z" fill="#1a1a1a" stroke="#1a1a1a" stroke-width="0.4" stroke-linejoin="round"/>
<text x="197.0" y="286.1" font-size="9.4">CG</text>
<line x1="187.9" y1="308.5" x2="196.6" y2="308.5" stroke="#1a1a1a" stroke-width="1.1"/>
<path d="M186.4,308.5 L190.1,306.0 L189.4,308.5 L190.1,311.0 Z" fill="#1a1a1a" stroke="#1a1a1a" stroke-width="0.4" stroke-linejoin="round"/>
<text x="197.0" y="311.8" font-size="9.4">Ponceau</text>
</g>
<g id="panelD">
<line x1="283.2" y1="216.1" x2="283.2" y2="323.2" stroke="#1a1a1a" stroke-width="1"/>
<line x1="276.09999999999997" y1="216.6" x2="283.2" y2="216.6" stroke="#1a1a1a" stroke-width="1"/>
<text x="275.4" y="219.95" font-size="9.4" text-anchor="end">400</text>
<line x1="276.09999999999997" y1="243.125" x2="283.2" y2="243.125" stroke="#1a1a1a" stroke-width="1"/>
<text x="275.4" y="246.475" font-size="9.4" text-anchor="end">300</text>
<line x1="276.09999999999997" y1="269.65" x2="283.2" y2="269.65" stroke="#1a1a1a" stroke-width="1"/>
<text x="275.4" y="273.0" font-size="9.4" text-anchor="end">200</text>
<line x1="276.09999999999997" y1="296.175" x2="283.2" y2="296.175" stroke="#1a1a1a" stroke-width="1"/>
<text x="275.4" y="299.52500000000003" font-size="9.4" text-anchor="end">100</text>
<line x1="276.09999999999997" y1="322.7" x2="283.2" y2="322.7" stroke="#1a1a1a" stroke-width="1"/>
<text x="275.4" y="326.05" font-size="9.4" text-anchor="end">0</text>
<line x1="283.2" y1="322.7" x2="442.7" y2="322.7" stroke="#1a1a1a" stroke-width="1"/>
<line x1="298.0" y1="322.7" x2="298.0" y2="329.2" stroke="#1a1a1a" stroke-width="1"/>
<line x1="319.9" y1="322.7" x2="319.9" y2="329.2" stroke="#1a1a1a" stroke-width="1"/>
<line x1="353.2" y1="322.7" x2="353.2" y2="329.2" stroke="#1a1a1a" stroke-width="1"/>
<line x1="375.3" y1="322.7" x2="375.3" y2="329.2" stroke="#1a1a1a" stroke-width="1"/>
<line x1="408.2" y1="322.7" x2="408.2" y2="329.2" stroke="#1a1a1a" stroke-width="1"/>
<line x1="430.5" y1="322.7" x2="430.5" y2="329.2" stroke="#1a1a1a" stroke-width="1"/>
<text x="253.0" y="269.35" font-size="9.1" text-anchor="middle" transform="rotate(-90 253.0 269.35)">AQP2 protein/ ponceau</text>
<line x1="291.8" y1="296.3" x2="304.59999999999997" y2="296.3" stroke="#1a1a1a" stroke-width="0.95"/>
<line x1="298.2" y1="292.6" x2="298.2" y2="300.0" stroke="#1a1a1a" stroke-width="0.95"/>
<line x1="294.9" y1="292.6" x2="301.5" y2="292.6" stroke="#1a1a1a" stroke-width="0.95"/>
<line x1="294.9" y1="300.0" x2="301.5" y2="300.0" stroke="#1a1a1a" stroke-width="0.95"/>
<circle cx="299.0" cy="283.9" r="2.55" fill="#fff" stroke="#2a2a2a" stroke-width="0.8"/>
<circle cx="295.5" cy="287.0" r="2.55" fill="#fff" stroke="#2a2a2a" stroke-width="0.8"/>
<circle cx="293.2" cy="296.3" r="2.55" fill="#fff" stroke="#2a2a2a" stroke-width="0.8"/>
<circle cx="297.1" cy="300.3" r="2.55" fill="#fff" stroke="#2a2a2a" stroke-width="0.8"/>
<circle cx="300.9" cy="301.2" r="2.55" fill="#fff" stroke="#2a2a2a" stroke-width="0.8"/>
<circle cx="297.1" cy="310.1" r="2.55" fill="#fff" stroke="#2a2a2a" stroke-width="0.8"/>
<line x1="311.29999999999995" y1="274.5" x2="324.5" y2="274.5" stroke="#1a1a1a" stroke-width="0.95"/>
<line x1="317.9" y1="269.2" x2="317.9" y2="279.7" stroke="#1a1a1a" stroke-width="0.95"/>
<line x1="314.59999999999997" y1="269.2" x2="321.2" y2="269.2" stroke="#1a1a1a" stroke-width="0.95"/>
<line x1="314.59999999999997" y1="279.7" x2="321.2" y2="279.7" stroke="#1a1a1a" stroke-width="0.95"/>
<circle cx="314.5" cy="260.8" r="2.85" fill="#000"/>
<circle cx="321.3" cy="260.3" r="2.85" fill="#000"/>
<circle cx="314.5" cy="275.0" r="2.85" fill="#000"/>
<circle cx="321.3" cy="275.8" r="2.85" fill="#000"/>
<circle cx="317.9" cy="283.4" r="2.85" fill="#000"/>
<circle cx="317.9" cy="296.6" r="2.85" fill="#000"/>
<polyline points="295.5,244.2 295.5,237.1 317.9,237.1 317.9,244.2" fill="none" stroke="#1a1a1a" stroke-width="1.0"/>
<text x="306.7" y="235.724" font-size="9.0" text-anchor="middle" font-weight="bold">**</text>
<line x1="346.0" y1="296.3" x2="359.20000000000005" y2="296.3" stroke="#1a1a1a" stroke-width="0.95"/>
<line x1="352.6" y1="293.7" x2="352.6" y2="299.1" stroke="#1a1a1a" stroke-width="0.95"/>
<line x1="349.3" y1="293.7" x2="355.90000000000003" y2="293.7" stroke="#1a1a1a" stroke-width="0.95"/>
<line x1="349.3" y1="299.1" x2="355.90000000000003" y2="299.1" stroke="#1a1a1a" stroke-width="0.95"/>
<circle cx="355.8" cy="287.4" r="2.55" fill="#fff" stroke="#2a2a2a" stroke-width="0.8"/>
<circle cx="348.6" cy="289.3" r="2.55" fill="#fff" stroke="#2a2a2a" stroke-width="0.8"/>
<circle cx="348.6" cy="296.3" r="2.55" fill="#fff" stroke="#2a2a2a" stroke-width="0.8"/>
<circle cx="355.8" cy="298.4" r="2.55" fill="#fff" stroke="#2a2a2a" stroke-width="0.8"/>
<circle cx="348.6" cy="300.7" r="2.55" fill="#fff" stroke="#2a2a2a" stroke-width="0.8"/>
<circle cx="355.8" cy="306.8" r="2.55" fill="#fff" stroke="#2a2a2a" stroke-width="0.8"/>
<line x1="366.59999999999997" y1="258.8" x2="379.8" y2="258.8" stroke="#1a1a1a" stroke-width="0.95"/>
<line x1="373.2" y1="254.2" x2="373.2" y2="262.8" stroke="#1a1a1a" stroke-width="0.95"/>
<line x1="369.59999999999997" y1="254.2" x2="376.8" y2="254.2" stroke="#1a1a1a" stroke-width="0.95"/>
<line x1="369.59999999999997" y1="262.8" x2="376.8" y2="262.8" stroke="#1a1a1a" stroke-width="0.95"/>
<circle cx="376.1" cy="242.6" r="2.85" fill="#000"/>
<circle cx="369.5" cy="248.4" r="2.85" fill="#000"/>
<circle cx="369.5" cy="260.8" r="2.85" fill="#000"/>
<circle cx="376.1" cy="264.3" r="2.85" fill="#000"/>
<circle cx="369.5" cy="265.2" r="2.85" fill="#000"/>
<circle cx="376.1" cy="273.0" r="2.85" fill="#000"/>
<polyline points="350.4,231.0 350.4,224.1 373.3,224.1 373.3,231.0" fill="none" stroke="#1a1a1a" stroke-width="1.0"/>
<text x="361.85" y="222.724" font-size="9.0" text-anchor="middle" font-weight="bold">***</text>
<line x1="401.8" y1="296.3" x2="414.8" y2="296.3" stroke="#1a1a1a" stroke-width="0.95"/>
<line x1="408.3" y1="292.6" x2="408.3" y2="300.0" stroke="#1a1a1a" stroke-width="0.95"/>
<line x1="405.0" y1="292.6" x2="411.6" y2="292.6" stroke="#1a1a1a" stroke-width="0.95"/>
<line x1="405.0" y1="300.0" x2="411.6" y2="300.0" stroke="#1a1a1a" stroke-width="0.95"/>
<circle cx="410.0" cy="283.9" r="2.55" fill="#fff" stroke="#2a2a2a" stroke-width="0.8"/>
<circle cx="406.5" cy="287.0" r="2.55" fill="#fff" stroke="#2a2a2a" stroke-width="0.8"/>
<circle cx="404.2" cy="296.3" r="2.55" fill="#fff" stroke="#2a2a2a" stroke-width="0.8"/>
<circle cx="408.1" cy="300.3" r="2.55" fill="#fff" stroke="#2a2a2a" stroke-width="0.8"/>
<circle cx="411.6" cy="301.2" r="2.55" fill="#fff" stroke="#2a2a2a" stroke-width="0.8"/>
<circle cx="408.1" cy="310.1" r="2.55" fill="#fff" stroke="#2a2a2a" stroke-width="0.8"/>
<line x1="421.8" y1="276.4" x2="435.40000000000003" y2="276.4" stroke="#1a1a1a" stroke-width="0.95"/>
<line x1="428.6" y1="270.9" x2="428.6" y2="281.6" stroke="#1a1a1a" stroke-width="0.95"/>
<line x1="425.0" y1="270.9" x2="432.20000000000005" y2="270.9" stroke="#1a1a1a" stroke-width="0.95"/>
<line x1="425.0" y1="281.6" x2="432.20000000000005" y2="281.6" stroke="#1a1a1a" stroke-width="0.95"/>
<circle cx="431.7" cy="261.3" r="2.85" fill="#000"/>
<circle cx="424.7" cy="264.5" r="2.85" fill="#000"/>
<circle cx="428.0" cy="275.3" r="2.85" fill="#000"/>
<circle cx="424.7" cy="277.6" r="2.85" fill="#000"/>
<circle cx="431.7" cy="283.9" r="2.85" fill="#000"/>
<circle cx="428.2" cy="296.3" r="2.85" fill="#000"/>
<polyline points="406.5,246.4 406.5,239.1 428.8,239.1 428.8,246.4" fill="none" stroke="#1a1a1a" stroke-width="1.0"/>
<text x="417.65" y="237.724" font-size="9.0" text-anchor="middle" font-weight="bold">*</text>
<text x="301.1" y="339.7" font-size="9.0" text-anchor="middle" transform="rotate(-45 301.1 339.7)">+/+</text>
<text x="356.3" y="339.7" font-size="9.0" text-anchor="middle" transform="rotate(-45 356.3 339.7)">+/+</text>
<text x="411.3" y="339.7" font-size="9.0" text-anchor="middle" transform="rotate(-45 411.3 339.7)">+/+</text>
<text x="321.6" y="340.1" font-size="9.0" text-anchor="middle" transform="rotate(-45 321.6 340.1)">&#916;/&#916;</text>
<text x="377.1" y="340.1" font-size="9.0" text-anchor="middle" transform="rotate(-45 377.1 340.1)">&#916;/&#916;</text>
<text x="432.3" y="340.1" font-size="9.0" text-anchor="middle" transform="rotate(-45 432.3 340.1)">&#916;/&#916;</text>
<line x1="288.9" y1="350.6" x2="331.6" y2="350.6" stroke="#1a1a1a" stroke-width="1.5"/>
<line x1="342.3" y1="350.6" x2="385.7" y2="350.6" stroke="#1a1a1a" stroke-width="1.5"/>
<line x1="396.4" y1="350.6" x2="439.8" y2="350.6" stroke="#1a1a1a" stroke-width="1.5"/>
<text x="309.9" y="363.6" font-size="9.3" text-anchor="middle">CG</text>
<text x="364.0" y="363.6" font-size="9.3" text-anchor="middle">FG</text>
<text x="417.5" y="363.6" font-size="9.3" text-anchor="middle">Total</text>
</g>
<g id="panelE">
<line x1="523.4" y1="216.0" x2="523.4" y2="322.4" stroke="#1a1a1a" stroke-width="1"/>
<line x1="516.3" y1="216.5" x2="523.4" y2="216.5" stroke="#1a1a1a" stroke-width="1"/>
<text x="515.5999999999999" y="219.85" font-size="9.4" text-anchor="end">5000</text>
<line x1="516.3" y1="237.57999999999998" x2="523.4" y2="237.57999999999998" stroke="#1a1a1a" stroke-width="1"/>
<text x="515.5999999999999" y="240.92999999999998" font-size="9.4" text-anchor="end">4000</text>
<line x1="516.3" y1="258.65999999999997" x2="523.4" y2="258.65999999999997" stroke="#1a1a1a" stroke-width="1"/>
<text x="515.5999999999999" y="262.01" font-size="9.4" text-anchor="end">3000</text>
<line x1="516.3" y1="279.74" x2="523.4" y2="279.74" stroke="#1a1a1a" stroke-width="1"/>
<text x="515.5999999999999" y="283.09000000000003" font-size="9.4" text-anchor="end">2000</text>
<line x1="516.3" y1="300.82" x2="523.4" y2="300.82" stroke="#1a1a1a" stroke-width="1"/>
<text x="515.5999999999999" y="304.17" font-size="9.4" text-anchor="end">1000</text>
<line x1="516.3" y1="321.9" x2="523.4" y2="321.9" stroke="#1a1a1a" stroke-width="1"/>
<text x="515.5999999999999" y="325.25" font-size="9.4" text-anchor="end">0</text>
<line x1="523.4" y1="321.9" x2="682" y2="321.9" stroke="#1a1a1a" stroke-width="1"/>
<line x1="548.7" y1="321.9" x2="548.7" y2="329.29999999999995" stroke="#1a1a1a" stroke-width="1"/>
<line x1="576.4" y1="321.9" x2="576.4" y2="329.29999999999995" stroke="#1a1a1a" stroke-width="1"/>
<line x1="602.3" y1="321.9" x2="602.3" y2="329.29999999999995" stroke="#1a1a1a" stroke-width="1"/>
<line x1="629.9" y1="321.9" x2="629.9" y2="329.29999999999995" stroke="#1a1a1a" stroke-width="1"/>
<line x1="657.4" y1="321.9" x2="657.4" y2="329.29999999999995" stroke="#1a1a1a" stroke-width="1"/>
<text x="485.2" y="269.3" font-size="9.1" text-anchor="middle" transform="rotate(-90 485.2 269.3)">mOsm/kg H<tspan font-size="6.2" dy="2.2">2</tspan><tspan dy="-2.2">O</tspan></text>
<text x="491.3" y="338.3" font-size="9.5">dDAVP</text>
<text x="534.0" y="336.2" font-size="9" text-anchor="middle" font-weight="bold">-</text>
<text x="589.3" y="336.2" font-size="9" text-anchor="middle" font-weight="bold">-</text>
<text x="643.8" y="336.2" font-size="9" text-anchor="middle" font-weight="bold">-</text>
<text x="561.3" y="337.1" font-size="8.6" text-anchor="middle" font-weight="bold">+</text>
<text x="616.2" y="337.1" font-size="8.6" text-anchor="middle" font-weight="bold">+</text>
<text x="671.1" y="337.1" font-size="8.6" text-anchor="middle" font-weight="bold">+</text>
<text x="527.4" y="346.3" font-size="7.0" text-anchor="middle">RK</text>
<text x="555.3" y="346.3" font-size="7.0" text-anchor="middle">RK</text>
<text x="584.0" y="346.3" font-size="7.0" text-anchor="middle">RK</text>
<text x="610.9" y="346.3" font-size="7.0" text-anchor="middle">RK</text>
<text x="638.4" y="346.3" font-size="7.0" text-anchor="middle">RK</text>
<text x="665.8" y="346.3" font-size="7.0" text-anchor="middle">RK</text>
<text x="540.1" y="346.3" font-size="7.0" text-anchor="middle">LK</text>
<text x="568.3" y="346.3" font-size="7.0" text-anchor="middle">LK</text>
<text x="595.8" y="346.3" font-size="7.0" text-anchor="middle">LK</text>
<text x="623.0" y="346.3" font-size="7.0" text-anchor="middle">LK</text>
<text x="650.4" y="346.3" font-size="7.0" text-anchor="middle">LK</text>
<text x="677.8" y="346.3" font-size="7.0" text-anchor="middle">LK</text>
<line x1="523.4" y1="351.1" x2="573.7" y2="351.1" stroke="#1a1a1a" stroke-width="1.3"/>
<line x1="578.9" y1="351.1" x2="628.2" y2="351.1" stroke="#1a1a1a" stroke-width="1.3"/>
<line x1="634.1" y1="351.1" x2="685" y2="351.1" stroke="#1a1a1a" stroke-width="1.3"/>
<text x="548.7" y="362.6" font-size="8.8" text-anchor="middle">+/+</text>
<text x="603.3" y="363.0" font-size="9.8" text-anchor="middle" style="font-family:'Liberation Serif',serif">&#916;/+</text>
<text x="659.1" y="363.0" font-size="9.8" text-anchor="middle" style="font-family:'Liberation Serif',serif">&#916;/&#916;</text>
<line x1="527.1" y1="273.3" x2="534.9" y2="273.3" stroke="#1a1a1a" stroke-width="0.9"/>
<line x1="531.0" y1="269.9" x2="531.0" y2="276.8" stroke="#1a1a1a" stroke-width="0.9"/>
<line x1="528.7" y1="269.9" x2="533.3" y2="269.9" stroke="#1a1a1a" stroke-width="0.9"/>
<line x1="528.7" y1="276.8" x2="533.3" y2="276.8" stroke="#1a1a1a" stroke-width="0.9"/>
<circle cx="529.8" cy="269.3" r="2.5" fill="#fff" stroke="#2a2a2a" stroke-width="0.8"/>
<circle cx="532.2" cy="271.9" r="2.5" fill="#fff" stroke="#2a2a2a" stroke-width="0.8"/>
<circle cx="530.0" cy="279.7" r="2.5" fill="#fff" stroke="#2a2a2a" stroke-width="0.8"/>
<circle cx="531.8" cy="278.9" r="2.5" fill="#fff" stroke="#2a2a2a" stroke-width="0.8"/>
<line x1="538.4" y1="296.9" x2="546.1999999999999" y2="296.9" stroke="#1a1a1a" stroke-width="0.9"/>
<line x1="542.3" y1="289.8" x2="542.3" y2="304.4" stroke="#1a1a1a" stroke-width="0.9"/>
<line x1="540.0" y1="289.8" x2="544.5999999999999" y2="289.8" stroke="#1a1a1a" stroke-width="0.9"/>
<line x1="540.0" y1="304.4" x2="544.5999999999999" y2="304.4" stroke="#1a1a1a" stroke-width="0.9"/>
<circle cx="542.3" cy="277.1" r="2.5" fill="#fff" stroke="#2a2a2a" stroke-width="0.8"/>
<circle cx="541.9" cy="295.3" r="2.5" fill="#fff" stroke="#2a2a2a" stroke-width="0.8"/>
<circle cx="542.8" cy="299.5" r="2.5" fill="#fff" stroke="#2a2a2a" stroke-width="0.8"/>
<circle cx="542.3" cy="314.7" r="2.5" fill="#fff" stroke="#2a2a2a" stroke-width="0.8"/>
<line x1="549.7" y1="252.5" x2="557.5" y2="252.5" stroke="#1a1a1a" stroke-width="0.9"/>
<line x1="553.6" y1="246.6" x2="553.6" y2="258.0" stroke="#1a1a1a" stroke-width="0.9"/>
<line x1="551.3000000000001" y1="246.6" x2="555.9" y2="246.6" stroke="#1a1a1a" stroke-width="0.9"/>
<line x1="551.3000000000001" y1="258.0" x2="555.9" y2="258.0" stroke="#1a1a1a" stroke-width="0.9"/>
<circle cx="553.6" cy="236.9" r="2.5" fill="#fff" stroke="#2a2a2a" stroke-width="0.8"/>
<circle cx="554.3000000000001" cy="238.7" r="2.5" fill="#fff" stroke="#2a2a2a" stroke-width="0.8"/>
<circle cx="552.6" cy="250.8" r="2.5" fill="#fff" stroke="#2a2a2a" stroke-width="0.8"/>
<circle cx="554.9" cy="253.1" r="2.5" fill="#fff" stroke="#2a2a2a" stroke-width="0.8"/>
<circle cx="553.6" cy="257.0" r="2.5" fill="#fff" stroke="#2a2a2a" stroke-width="0.8"/>
<circle cx="553.6" cy="279.7" r="2.5" fill="#fff" stroke="#2a2a2a" stroke-width="0.8"/>
<line x1="562.1" y1="253.1" x2="569.9" y2="253.1" stroke="#1a1a1a" stroke-width="0.9"/>
<line x1="566.0" y1="248.2" x2="566.0" y2="258.0" stroke="#1a1a1a" stroke-width="0.9"/>
<line x1="563.7" y1="248.2" x2="568.3" y2="248.2" stroke="#1a1a1a" stroke-width="0.9"/>
<line x1="563.7" y1="258.0" x2="568.3" y2="258.0" stroke="#1a1a1a" stroke-width="0.9"/>
<circle cx="566.2" cy="239.2" r="2.5" fill="#fff" stroke="#2a2a2a" stroke-width="0.8"/>
<circle cx="564.8" cy="254.1" r="2.5" fill="#fff" stroke="#2a2a2a" stroke-width="0.8"/>
<circle cx="567.5" cy="254.7" r="2.5" fill="#fff" stroke="#2a2a2a" stroke-width="0.8"/>
<circle cx="566.2" cy="259.0" r="2.5" fill="#fff" stroke="#2a2a2a" stroke-width="0.8"/>
<line x1="580.9" y1="274.8" x2="588.6999999999999" y2="274.8" stroke="#1a1a1a" stroke-width="0.9"/>
<line x1="584.8" y1="269.3" x2="584.8" y2="280.0" stroke="#1a1a1a" stroke-width="0.9"/>
<line x1="582.5" y1="269.3" x2="587.0999999999999" y2="269.3" stroke="#1a1a1a" stroke-width="0.9"/>
<line x1="582.5" y1="280.0" x2="587.0999999999999" y2="280.0" stroke="#1a1a1a" stroke-width="0.9"/>
<circle cx="584.4" cy="267.1" r="2.5" fill="#999" stroke="#3a3a3a" stroke-width="0.8"/>
<circle cx="585.0999999999999" cy="271.0" r="2.5" fill="#999" stroke="#3a3a3a" stroke-width="0.8"/>
<circle cx="584.4" cy="274.2" r="2.5" fill="#999" stroke="#3a3a3a" stroke-width="0.8"/>
<circle cx="585.0999999999999" cy="289.8" r="2.5" fill="#999" stroke="#3a3a3a" stroke-width="0.8"/>
<line x1="592.4" y1="281.3" x2="600.1999999999999" y2="281.3" stroke="#1a1a1a" stroke-width="0.9"/>
<line x1="596.3" y1="278.9" x2="596.3" y2="283.8" stroke="#1a1a1a" stroke-width="0.9"/>
<line x1="594.0" y1="278.9" x2="598.5999999999999" y2="278.9" stroke="#1a1a1a" stroke-width="0.9"/>
<line x1="594.0" y1="283.8" x2="598.5999999999999" y2="283.8" stroke="#1a1a1a" stroke-width="0.9"/>
<circle cx="595.8" cy="273.2" r="2.5" fill="#999" stroke="#3a3a3a" stroke-width="0.8"/>
<circle cx="596.5" cy="279.7" r="2.5" fill="#999" stroke="#3a3a3a" stroke-width="0.8"/>
<circle cx="595.8" cy="282.3" r="2.5" fill="#999" stroke="#3a3a3a" stroke-width="0.8"/>
<circle cx="596.5" cy="284.9" r="2.5" fill="#999" stroke="#3a3a3a" stroke-width="0.8"/>
<circle cx="596.8" cy="288.1" r="2.5" fill="#999" stroke="#3a3a3a" stroke-width="0.8"/>
<line x1="603.9" y1="236.2" x2="611.6999999999999" y2="236.2" stroke="#1a1a1a" stroke-width="0.9"/>
<line x1="607.8" y1="233.0" x2="607.8" y2="239.4" stroke="#1a1a1a" stroke-width="0.9"/>
<line x1="605.5" y1="233.0" x2="610.0999999999999" y2="233.0" stroke="#1a1a1a" stroke-width="0.9"/>
<line x1="605.5" y1="239.4" x2="610.0999999999999" y2="239.4" stroke="#1a1a1a" stroke-width="0.9"/>
<circle cx="607.8" cy="227.2" r="2.5" fill="#999" stroke="#3a3a3a" stroke-width="0.8"/>
<circle cx="607.8" cy="235.3" r="2.5" fill="#999" stroke="#3a3a3a" stroke-width="0.8"/>
<circle cx="607.0999999999999" cy="237.9" r="2.5" fill="#999" stroke="#3a3a3a" stroke-width="0.8"/>
<circle cx="608.0999999999999" cy="242.4" r="2.5" fill="#999" stroke="#3a3a3a" stroke-width="0.8"/>
<line x1="615.8000000000001" y1="249.9" x2="623.6" y2="249.9" stroke="#1a1a1a" stroke-width="0.9"/>
<line x1="619.7" y1="248.4" x2="619.7" y2="251.4" stroke="#1a1a1a" stroke-width="0.9"/>
<line x1="617.4000000000001" y1="248.4" x2="622.0" y2="248.4" stroke="#1a1a1a" stroke-width="0.9"/>
<line x1="617.4000000000001" y1="251.4" x2="622.0" y2="251.4" stroke="#1a1a1a" stroke-width="0.9"/>
<circle cx="619.2" cy="246.6" r="2.5" fill="#999" stroke="#3a3a3a" stroke-width="0.8"/>
<circle cx="620.1" cy="249.9" r="2.5" fill="#999" stroke="#3a3a3a" stroke-width="0.8"/>
<circle cx="619.4000000000001" cy="252.1" r="2.5" fill="#999" stroke="#3a3a3a" stroke-width="0.8"/>
<circle cx="620.7" cy="253.1" r="2.5" fill="#999" stroke="#3a3a3a" stroke-width="0.8"/>
<line x1="635.7" y1="268.7" x2="643.5" y2="268.7" stroke="#1a1a1a" stroke-width="0.9"/>
<line x1="639.6" y1="264.8" x2="639.6" y2="272.6" stroke="#1a1a1a" stroke-width="0.9"/>
<line x1="637.3000000000001" y1="264.8" x2="641.9" y2="264.8" stroke="#1a1a1a" stroke-width="0.9"/>
<line x1="637.3000000000001" y1="272.6" x2="641.9" y2="272.6" stroke="#1a1a1a" stroke-width="0.9"/>
<circle cx="639.6" cy="248.2" r="2.75" fill="#000"/>
<circle cx="639.6" cy="265.4" r="2.75" fill="#000"/>
<circle cx="638.9" cy="268.7" r="2.75" fill="#000"/>
<circle cx="639.6" cy="271.9" r="2.75" fill="#000"/>
<circle cx="639.6" cy="277.4" r="2.75" fill="#000"/>
<circle cx="640.2" cy="279.7" r="2.75" fill="#000"/>
<line x1="646.7" y1="255.7" x2="654.5" y2="255.7" stroke="#1a1a1a" stroke-width="0.9"/>
<line x1="650.6" y1="253.0" x2="650.6" y2="258.4" stroke="#1a1a1a" stroke-width="0.9"/>
<line x1="648.3000000000001" y1="253.0" x2="652.9" y2="253.0" stroke="#1a1a1a" stroke-width="0.9"/>
<line x1="648.3000000000001" y1="258.4" x2="652.9" y2="258.4" stroke="#1a1a1a" stroke-width="0.9"/>
<circle cx="650.3000000000001" cy="248.9" r="2.75" fill="#000"/>
<circle cx="650.9" cy="252.1" r="2.75" fill="#000"/>
<circle cx="650.3000000000001" cy="255.7" r="2.75" fill="#000"/>
<circle cx="650.9" cy="259.6" r="2.75" fill="#000"/>
<circle cx="650.9" cy="263.5" r="2.75" fill="#000"/>
<line x1="658.7" y1="242.4" x2="666.5" y2="242.4" stroke="#1a1a1a" stroke-width="0.9"/>
<line x1="662.6" y1="239.6" x2="662.6" y2="245.2" stroke="#1a1a1a" stroke-width="0.9"/>
<line x1="660.3000000000001" y1="239.6" x2="664.9" y2="239.6" stroke="#1a1a1a" stroke-width="0.9"/>
<line x1="660.3000000000001" y1="245.2" x2="664.9" y2="245.2" stroke="#1a1a1a" stroke-width="0.9"/>
<circle cx="662.3000000000001" cy="232.0" r="2.75" fill="#000"/>
<circle cx="662.3000000000001" cy="236.9" r="2.75" fill="#000"/>
<circle cx="661.6" cy="240.8" r="2.75" fill="#000"/>
<circle cx="663.0" cy="244.4" r="2.75" fill="#000"/>
<circle cx="662.3000000000001" cy="247.6" r="2.75" fill="#000"/>
<circle cx="663.0" cy="251.5" r="2.75" fill="#000"/>
<line x1="670.1" y1="245.0" x2="677.9" y2="245.0" stroke="#1a1a1a" stroke-width="0.9"/>
<line x1="674.0" y1="241.0" x2="674.0" y2="249.0" stroke="#1a1a1a" stroke-width="0.9"/>
<line x1="671.7" y1="241.0" x2="676.3" y2="241.0" stroke="#1a1a1a" stroke-width="0.9"/>
<line x1="671.7" y1="249.0" x2="676.3" y2="249.0" stroke="#1a1a1a" stroke-width="0.9"/>
<circle cx="673.7" cy="235.3" r="2.75" fill="#000"/>
<circle cx="674.3" cy="238.5" r="2.75" fill="#000"/>
<circle cx="673.7" cy="243.4" r="2.75" fill="#000"/>
<circle cx="674.3" cy="250.8" r="2.75" fill="#000"/>
<circle cx="674.3" cy="259.0" r="2.75" fill="#000"/>
<polyline points="532.1,230.4 532.1,222.9 553.2,222.9 553.2,230.4" fill="none" stroke="#1a1a1a" stroke-width="1.0"/>
<text x="542.6500000000001" y="221.524" font-size="9.0" text-anchor="middle" font-weight="bold">*</text>
<polyline points="545.1,214.8 545.1,207.7 566.5,207.7 566.5,214.8" fill="none" stroke="#1a1a1a" stroke-width="1.0"/>
<text x="555.8" y="206.32399999999998" font-size="9.0" text-anchor="middle" font-weight="bold">***</text>
<polyline points="586.4,220.7 586.4,213.5 607.8,213.5 607.8,220.7" fill="none" stroke="#1a1a1a" stroke-width="1.0"/>
<text x="597.0999999999999" y="212.124" font-size="9.0" text-anchor="middle" font-weight="bold">***</text>
<polyline points="596.8,204.5 596.8,197.3 618.5,197.3 618.5,204.5" fill="none" stroke="#1a1a1a" stroke-width="1.0"/>
<text x="607.65" y="195.924" font-size="9.0" text-anchor="middle" font-weight="bold">***</text>
<polyline points="640.2,221.3 640.2,214.2 661.3,214.2 661.3,221.3" fill="none" stroke="#1a1a1a" stroke-width="1.0"/>
<text x="650.75" y="212.82399999999998" font-size="9.0" text-anchor="middle" font-weight="bold">***</text>
</g>
<g id="panelF">
<line x1="56.0" y1="414.2" x2="56.0" y2="521.2" stroke="#1a1a1a" stroke-width="1"/>
<line x1="48.9" y1="414.7" x2="56.0" y2="414.7" stroke="#1a1a1a" stroke-width="1"/>
<text x="48.199999999999996" y="418.05" font-size="9.4" text-anchor="end">8000</text>
<line x1="48.9" y1="441.2" x2="56.0" y2="441.2" stroke="#1a1a1a" stroke-width="1"/>
<text x="48.199999999999996" y="444.55" font-size="9.4" text-anchor="end">6000</text>
<line x1="48.9" y1="467.70000000000005" x2="56.0" y2="467.70000000000005" stroke="#1a1a1a" stroke-width="1"/>
<text x="48.199999999999996" y="471.05000000000007" font-size="9.4" text-anchor="end">4000</text>
<line x1="48.9" y1="494.20000000000005" x2="56.0" y2="494.20000000000005" stroke="#1a1a1a" stroke-width="1"/>
<text x="48.199999999999996" y="497.55000000000007" font-size="9.4" text-anchor="end">2000</text>
<line x1="48.9" y1="520.7" x2="56.0" y2="520.7" stroke="#1a1a1a" stroke-width="1"/>
<text x="48.199999999999996" y="524.0500000000001" font-size="9.4" text-anchor="end">0</text>
<line x1="56.0" y1="520.7" x2="216.0" y2="520.7" stroke="#1a1a1a" stroke-width="1"/>
<line x1="77.3" y1="520.7" x2="77.3" y2="527.2" stroke="#1a1a1a" stroke-width="1"/>
<line x1="110.0" y1="520.7" x2="110.0" y2="527.2" stroke="#1a1a1a" stroke-width="1"/>
<line x1="162.3" y1="520.7" x2="162.3" y2="527.2" stroke="#1a1a1a" stroke-width="1"/>
<line x1="194.3" y1="520.7" x2="194.3" y2="527.2" stroke="#1a1a1a" stroke-width="1"/>
<text x="21.6" y="468.0" font-size="9.1" text-anchor="middle" transform="rotate(-90 21.6 468.0)">mOsm/kg H<tspan font-size="6.2" dy="2.2">2</tspan><tspan dy="-2.2">O</tspan></text>
<line x1="66.7" y1="503.7" x2="87.7" y2="503.7" stroke="#1a1a1a" stroke-width="0.95"/>
<circle cx="69.3" cy="500.0" r="2.55" fill="#fff" stroke="#2a2a2a" stroke-width="0.8"/>
<circle cx="75.0" cy="502.7" r="2.55" fill="#fff" stroke="#2a2a2a" stroke-width="0.8"/>
<circle cx="80.0" cy="503.3" r="2.55" fill="#fff" stroke="#2a2a2a" stroke-width="0.8"/>
<circle cx="84.7" cy="507.0" r="2.55" fill="#fff" stroke="#2a2a2a" stroke-width="0.8"/>
<line x1="98.3" y1="478.3" x2="117.3" y2="478.3" stroke="#1a1a1a" stroke-width="0.95"/>
<line x1="107.8" y1="475.0" x2="107.8" y2="481.7" stroke="#1a1a1a" stroke-width="0.95"/>
<line x1="104.2" y1="475.0" x2="111.39999999999999" y2="475.0" stroke="#1a1a1a" stroke-width="0.95"/>
<line x1="104.2" y1="481.7" x2="111.39999999999999" y2="481.7" stroke="#1a1a1a" stroke-width="0.95"/>
<circle cx="102.0" cy="470.7" r="2.85" fill="#000"/>
<circle cx="108.3" cy="476.7" r="2.85" fill="#000"/>
<circle cx="115.7" cy="477.3" r="2.85" fill="#000"/>
<circle cx="106.0" cy="481.7" r="2.85" fill="#000"/>
<circle cx="112.3" cy="486.0" r="2.85" fill="#000"/>
<line x1="151.5" y1="454.0" x2="173.10000000000002" y2="454.0" stroke="#1a1a1a" stroke-width="0.95"/>
<line x1="162.3" y1="445.0" x2="162.3" y2="463.3" stroke="#1a1a1a" stroke-width="0.95"/>
<line x1="157.0" y1="445.0" x2="167.60000000000002" y2="445.0" stroke="#1a1a1a" stroke-width="0.95"/>
<line x1="157.0" y1="463.3" x2="167.60000000000002" y2="463.3" stroke="#1a1a1a" stroke-width="0.95"/>
<circle cx="162.0" cy="438.3" r="2.55" fill="#fff" stroke="#2a2a2a" stroke-width="0.8"/>
<circle cx="157.0" cy="448.3" r="2.55" fill="#fff" stroke="#2a2a2a" stroke-width="0.8"/>
<circle cx="167.3" cy="450.0" r="2.55" fill="#fff" stroke="#2a2a2a" stroke-width="0.8"/>
<circle cx="162.0" cy="480.0" r="2.55" fill="#fff" stroke="#2a2a2a" stroke-width="0.8"/>
<line x1="183.39999999999998" y1="460.3" x2="205.0" y2="460.3" stroke="#1a1a1a" stroke-width="0.95"/>
<line x1="194.2" y1="456.7" x2="194.2" y2="464.3" stroke="#1a1a1a" stroke-width="0.95"/>
<line x1="190.6" y1="456.7" x2="197.79999999999998" y2="456.7" stroke="#1a1a1a" stroke-width="0.95"/>
<line x1="190.6" y1="464.3" x2="197.79999999999998" y2="464.3" stroke="#1a1a1a" stroke-width="0.95"/>
<circle cx="194.0" cy="450.3" r="2.85" fill="#000"/>
<circle cx="188.7" cy="457.0" r="2.85" fill="#000"/>
<circle cx="199.0" cy="458.7" r="2.85" fill="#000"/>
<circle cx="188.7" cy="464.7" r="2.85" fill="#000"/>
<circle cx="199.0" cy="470.7" r="2.85" fill="#000"/>
<polyline points="76.7,449.0 76.7,444.0 110.0,444.0 110.0,449.0" fill="none" stroke="#1a1a1a" stroke-width="1.0"/>
<text x="93.35" y="442.624" font-size="9.0" text-anchor="middle" font-weight="bold">*</text>
<polyline points="76.7,424.2 76.7,419.6 162.2,419.6 162.2,424.2" fill="none" stroke="#1a1a1a" stroke-width="1.0"/>
<text x="119.44999999999999" y="418.22400000000005" font-size="9.0" text-anchor="middle" font-weight="bold">***</text>
<text x="78.9" y="537.8" font-size="9.0" text-anchor="middle" transform="rotate(-45 78.9 537.8)">+/+</text>
<text x="110.1" y="537.9" font-size="9.0" text-anchor="middle" transform="rotate(-45 110.1 537.9)">&#916;/&#916;</text>
<text x="163.9" y="537.8" font-size="9.0" text-anchor="middle" transform="rotate(-45 163.9 537.8)">+/+</text>
<text x="194.4" y="537.9" font-size="9.0" text-anchor="middle" transform="rotate(-45 194.4 537.9)">&#916;/&#916;</text>
<line x1="66.0" y1="546.3" x2="118.3" y2="546.3" stroke="#1a1a1a" stroke-width="1.3"/>
<line x1="151.0" y1="546.3" x2="207.3" y2="546.3" stroke="#1a1a1a" stroke-width="1.3"/>
<text x="92.3" y="558.4" font-size="9.35" text-anchor="middle">Control</text>
<text x="177.2" y="558.4" font-size="9.35" text-anchor="middle">24h water</text>
<text x="177.0" y="569.5" font-size="9.35" text-anchor="middle">restriction</text>
</g>
<g id="panelG">
<line x1="286.3" y1="413.1" x2="286.3" y2="520.8" stroke="#1a1a1a" stroke-width="1"/>
<line x1="279.2" y1="413.6" x2="286.3" y2="413.6" stroke="#1a1a1a" stroke-width="1"/>
<text x="278.5" y="416.95000000000005" font-size="9.4" text-anchor="end">15000</text>
<line x1="279.2" y1="449.1666666666667" x2="286.3" y2="449.1666666666667" stroke="#1a1a1a" stroke-width="1"/>
<text x="278.5" y="452.5166666666667" font-size="9.4" text-anchor="end">10000</text>
<line x1="279.2" y1="484.7333333333333" x2="286.3" y2="484.7333333333333" stroke="#1a1a1a" stroke-width="1"/>
<text x="278.5" y="488.0833333333333" font-size="9.4" text-anchor="end">5000</text>
<line x1="279.2" y1="520.3" x2="286.3" y2="520.3" stroke="#1a1a1a" stroke-width="1"/>
<text x="278.5" y="523.65" font-size="9.4" text-anchor="end">0</text>
<line x1="286.3" y1="520.3" x2="444.3" y2="520.3" stroke="#1a1a1a" stroke-width="1"/>
<line x1="300.9" y1="520.3" x2="300.9" y2="526.8" stroke="#1a1a1a" stroke-width="1"/>
<line x1="323.5" y1="520.3" x2="323.5" y2="526.8" stroke="#1a1a1a" stroke-width="1"/>
<line x1="346.4" y1="520.3" x2="346.4" y2="526.8" stroke="#1a1a1a" stroke-width="1"/>
<line x1="384.2" y1="520.3" x2="384.2" y2="526.8" stroke="#1a1a1a" stroke-width="1"/>
<line x1="407.0" y1="520.3" x2="407.0" y2="526.8" stroke="#1a1a1a" stroke-width="1"/>
<line x1="429.8" y1="520.3" x2="429.8" y2="526.8" stroke="#1a1a1a" stroke-width="1"/>
<text x="247.6" y="467.3" font-size="9.2" text-anchor="middle" transform="rotate(-90 247.6 467.3)">urinary cAMP (pmol/ml)</text>
<line x1="293.8" y1="441.0" x2="308.59999999999997" y2="441.0" stroke="#1a1a1a" stroke-width="0.95"/>
<line x1="301.2" y1="436.5" x2="301.2" y2="446.1" stroke="#1a1a1a" stroke-width="0.95"/>
<line x1="297.59999999999997" y1="436.5" x2="304.8" y2="436.5" stroke="#1a1a1a" stroke-width="0.95"/>
<line x1="297.59999999999997" y1="446.1" x2="304.8" y2="446.1" stroke="#1a1a1a" stroke-width="0.95"/>
<circle cx="296.5" cy="435.2" r="2.55" fill="#fff" stroke="#2a2a2a" stroke-width="0.8"/>
<circle cx="301.7" cy="438.2" r="2.55" fill="#fff" stroke="#2a2a2a" stroke-width="0.8"/>
<circle cx="305.8" cy="437.9" r="2.55" fill="#fff" stroke="#2a2a2a" stroke-width="0.8"/>
<circle cx="301.0" cy="454.3" r="2.55" fill="#fff" stroke="#2a2a2a" stroke-width="0.8"/>
<line x1="316.4" y1="439.4" x2="331.4" y2="439.4" stroke="#1a1a1a" stroke-width="0.95"/>
<line x1="323.9" y1="434.6" x2="323.9" y2="443.4" stroke="#1a1a1a" stroke-width="0.95"/>
<line x1="320.29999999999995" y1="434.6" x2="327.5" y2="434.6" stroke="#1a1a1a" stroke-width="0.95"/>
<line x1="320.29999999999995" y1="443.4" x2="327.5" y2="443.4" stroke="#1a1a1a" stroke-width="0.95"/>
<circle cx="323.9" cy="428.9" r="2.6" fill="#999" stroke="#3a3a3a" stroke-width="0.8"/>
<circle cx="323.9" cy="436.8" r="2.6" fill="#999" stroke="#3a3a3a" stroke-width="0.8"/>
<circle cx="319.7" cy="445.7" r="2.6" fill="#999" stroke="#3a3a3a" stroke-width="0.8"/>
<circle cx="327.4" cy="446.9" r="2.6" fill="#999" stroke="#3a3a3a" stroke-width="0.8"/>
<line x1="338.79999999999995" y1="452.6" x2="354.0" y2="452.6" stroke="#1a1a1a" stroke-width="0.95"/>
<line x1="346.4" y1="449.2" x2="346.4" y2="456.0" stroke="#1a1a1a" stroke-width="0.95"/>
<line x1="342.79999999999995" y1="449.2" x2="350.0" y2="449.2" stroke="#1a1a1a" stroke-width="0.95"/>
<line x1="342.79999999999995" y1="456.0" x2="350.0" y2="456.0" stroke="#1a1a1a" stroke-width="0.95"/>
<circle cx="342.6" cy="447.6" r="2.85" fill="#000"/>
<circle cx="350.3" cy="449.8" r="2.85" fill="#000"/>
<circle cx="342.6" cy="454.6" r="2.85" fill="#000"/>
<circle cx="350.2" cy="459.4" r="2.85" fill="#000"/>
<line x1="376.9" y1="504.6" x2="391.9" y2="504.6" stroke="#1a1a1a" stroke-width="0.95"/>
<line x1="384.4" y1="497.0" x2="384.4" y2="511.8" stroke="#1a1a1a" stroke-width="0.95"/>
<line x1="380.7" y1="497.0" x2="388.09999999999997" y2="497.0" stroke="#1a1a1a" stroke-width="0.95"/>
<line x1="380.7" y1="511.8" x2="388.09999999999997" y2="511.8" stroke="#1a1a1a" stroke-width="0.95"/>
<circle cx="383.8" cy="487.8" r="2.55" fill="#fff" stroke="#2a2a2a" stroke-width="0.8"/>
<circle cx="384.4" cy="500.5" r="2.55" fill="#fff" stroke="#2a2a2a" stroke-width="0.8"/>
<circle cx="384.4" cy="510.0" r="2.55" fill="#fff" stroke="#2a2a2a" stroke-width="0.8"/>
<circle cx="384.4" cy="520.3" r="2.55" fill="#fff" stroke="#2a2a2a" stroke-width="0.8"/>
<line x1="399.1" y1="482.5" x2="414.5" y2="482.5" stroke="#1a1a1a" stroke-width="0.95"/>
<line x1="406.8" y1="478.4" x2="406.8" y2="486.6" stroke="#1a1a1a" stroke-width="0.95"/>
<line x1="403.2" y1="478.4" x2="410.40000000000003" y2="478.4" stroke="#1a1a1a" stroke-width="0.95"/>
<line x1="403.2" y1="486.6" x2="410.40000000000003" y2="486.6" stroke="#1a1a1a" stroke-width="0.95"/>
<circle cx="407.3" cy="472.6" r="2.6" fill="#999" stroke="#3a3a3a" stroke-width="0.8"/>
<circle cx="407.3" cy="480.3" r="2.6" fill="#999" stroke="#3a3a3a" stroke-width="0.8"/>
<circle cx="402.9" cy="486.4" r="2.6" fill="#999" stroke="#3a3a3a" stroke-width="0.8"/>
<circle cx="410.8" cy="489.4" r="2.6" fill="#999" stroke="#3a3a3a" stroke-width="0.8"/>
<line x1="422.0" y1="463.9" x2="437.4" y2="463.9" stroke="#1a1a1a" stroke-width="0.95"/>
<line x1="429.7" y1="451.9" x2="429.7" y2="475.9" stroke="#1a1a1a" stroke-width="0.95"/>
<line x1="425.5" y1="451.9" x2="433.9" y2="451.9" stroke="#1a1a1a" stroke-width="0.95"/>
<line x1="425.5" y1="475.9" x2="433.9" y2="475.9" stroke="#1a1a1a" stroke-width="0.95"/>
<circle cx="429.6" cy="428.7" r="2.85" fill="#000"/>
<circle cx="424.8" cy="472.4" r="2.85" fill="#000"/>
<circle cx="429.6" cy="475.2" r="2.85" fill="#000"/>
<circle cx="433.7" cy="479.6" r="2.85" fill="#000"/>
<polyline points="300.6,412.6 300.6,402.7 383.4,402.7 383.4,409.2" fill="none" stroke="#1a1a1a" stroke-width="1.0"/>
<text x="342.0" y="401.324" font-size="9.0" text-anchor="middle" font-weight="bold">***</text>
<polyline points="323.9,396.2 323.9,387.0 406.0,387.0 406.0,393.8" fill="none" stroke="#1a1a1a" stroke-width="1.0"/>
<text x="364.95" y="385.624" font-size="9.0" text-anchor="middle" font-weight="bold">***</text>
<polyline points="383.4,422.9 383.4,415.3 429.6,415.3 429.6,422.9" fill="none" stroke="#1a1a1a" stroke-width="1.0"/>
<text x="406.5" y="413.92400000000004" font-size="9.0" text-anchor="middle" font-weight="bold">*</text>
<text x="301.33" y="537.63" font-size="8.7" text-anchor="middle" transform="rotate(-45 301.33 537.63)">+/+</text>
<text x="384.63" y="537.63" font-size="8.7" text-anchor="middle" transform="rotate(-45 384.63 537.63)">+/+</text>
<text x="324.73" y="538.13" font-size="8.7" text-anchor="middle" transform="rotate(-45 324.73 538.13)">&#916;/+</text>
<text x="408.23" y="538.13" font-size="8.7" text-anchor="middle" transform="rotate(-45 408.23 538.13)">&#916;/+</text>
<text x="347.13" y="538.23" font-size="8.7" text-anchor="middle" transform="rotate(-45 347.13 538.23)">&#916;/&#916;</text>
<text x="430.53" y="538.23" font-size="8.7" text-anchor="middle" transform="rotate(-45 430.53 538.23)">&#916;/&#916;</text>
<line x1="295.9" y1="548.7" x2="354.7" y2="548.7" stroke="#1a1a1a" stroke-width="1.3"/>
<line x1="376.9" y1="548.7" x2="436.4" y2="548.7" stroke="#1a1a1a" stroke-width="1.3"/>
<text x="324.8" y="560.0" font-size="9.3" text-anchor="middle">RK</text>
<text x="407.0" y="560.0" font-size="9.3" text-anchor="middle">LK</text>
</g>
<g id="panelH">
<line x1="522.4" y1="413.8" x2="522.4" y2="520.8" stroke="#1a1a1a" stroke-width="1"/>
<line x1="515.3" y1="414.3" x2="522.4" y2="414.3" stroke="#1a1a1a" stroke-width="1"/>
<text x="514.5999999999999" y="417.65000000000003" font-size="9.4" text-anchor="end">20</text>
<line x1="515.3" y1="440.8" x2="522.4" y2="440.8" stroke="#1a1a1a" stroke-width="1"/>
<text x="514.5999999999999" y="444.15000000000003" font-size="9.4" text-anchor="end">15</text>
<line x1="515.3" y1="467.29999999999995" x2="522.4" y2="467.29999999999995" stroke="#1a1a1a" stroke-width="1"/>
<text x="514.5999999999999" y="470.65" font-size="9.4" text-anchor="end">10</text>
<line x1="515.3" y1="493.79999999999995" x2="522.4" y2="493.79999999999995" stroke="#1a1a1a" stroke-width="1"/>
<text x="514.5999999999999" y="497.15" font-size="9.4" text-anchor="end">5</text>
<line x1="515.3" y1="520.3" x2="522.4" y2="520.3" stroke="#1a1a1a" stroke-width="1"/>
<text x="514.5999999999999" y="523.65" font-size="9.4" text-anchor="end">0</text>
<line x1="522.4" y1="520.3" x2="682.4" y2="520.3" stroke="#1a1a1a" stroke-width="1"/>
<line x1="538.4" y1="520.3" x2="538.4" y2="526.8" stroke="#1a1a1a" stroke-width="1"/>
<line x1="560.6" y1="520.3" x2="560.6" y2="526.8" stroke="#1a1a1a" stroke-width="1"/>
<line x1="583.3" y1="520.3" x2="583.3" y2="526.8" stroke="#1a1a1a" stroke-width="1"/>
<line x1="621.4" y1="520.3" x2="621.4" y2="526.8" stroke="#1a1a1a" stroke-width="1"/>
<line x1="644.1" y1="520.3" x2="644.1" y2="526.8" stroke="#1a1a1a" stroke-width="1"/>
<line x1="666.7" y1="520.3" x2="666.7" y2="526.8" stroke="#1a1a1a" stroke-width="1"/>
<text x="486.8" y="467.6" font-size="9.1" text-anchor="middle" transform="rotate(-90 486.8 467.6)">PKA units/&#181;g protein</text>
<line x1="531.0" y1="491.2" x2="546.4000000000001" y2="491.2" stroke="#1a1a1a" stroke-width="0.95"/>
<line x1="538.7" y1="489.6" x2="538.7" y2="492.8" stroke="#1a1a1a" stroke-width="0.95"/>
<line x1="535.7" y1="489.6" x2="541.7" y2="489.6" stroke="#1a1a1a" stroke-width="0.95"/>
<line x1="535.7" y1="492.8" x2="541.7" y2="492.8" stroke="#1a1a1a" stroke-width="0.95"/>
<circle cx="533.4" cy="487.8" r="2.55" fill="#fff" stroke="#2a2a2a" stroke-width="0.8"/>
<circle cx="536.8" cy="491.2" r="2.55" fill="#fff" stroke="#2a2a2a" stroke-width="0.8"/>
<circle cx="540.2" cy="493.3" r="2.55" fill="#fff" stroke="#2a2a2a" stroke-width="0.8"/>
<circle cx="542.9" cy="494.7" r="2.55" fill="#fff" stroke="#2a2a2a" stroke-width="0.8"/>
<line x1="553.1999999999999" y1="488.5" x2="568.6" y2="488.5" stroke="#1a1a1a" stroke-width="0.95"/>
<line x1="560.9" y1="485.1" x2="560.9" y2="492.3" stroke="#1a1a1a" stroke-width="0.95"/>
<line x1="557.3" y1="485.1" x2="564.5" y2="485.1" stroke="#1a1a1a" stroke-width="0.95"/>
<line x1="557.3" y1="492.3" x2="564.5" y2="492.3" stroke="#1a1a1a" stroke-width="0.95"/>
<circle cx="556.6" cy="479.3" r="2.6" fill="#999" stroke="#3a3a3a" stroke-width="0.8"/>
<circle cx="564.1" cy="487.1" r="2.6" fill="#999" stroke="#3a3a3a" stroke-width="0.8"/>
<circle cx="557.3" cy="491.9" r="2.6" fill="#999" stroke="#3a3a3a" stroke-width="0.8"/>
<circle cx="564.1" cy="495.3" r="2.6" fill="#999" stroke="#3a3a3a" stroke-width="0.8"/>
<line x1="575.9" y1="467.3" x2="591.3000000000001" y2="467.3" stroke="#1a1a1a" stroke-width="0.95"/>
<line x1="583.6" y1="462.2" x2="583.6" y2="472.4" stroke="#1a1a1a" stroke-width="0.95"/>
<line x1="579.7" y1="462.2" x2="587.5" y2="462.2" stroke="#1a1a1a" stroke-width="0.95"/>
<line x1="579.7" y1="472.4" x2="587.5" y2="472.4" stroke="#1a1a1a" stroke-width="0.95"/>
<circle cx="583.5" cy="456.4" r="2.85" fill="#000"/>
<circle cx="579.3" cy="463.2" r="2.85" fill="#000"/>
<circle cx="586.0" cy="470.7" r="2.85" fill="#000"/>
<circle cx="583.1" cy="478.2" r="2.85" fill="#000"/>
<line x1="613.1999999999999" y1="472.8" x2="628.4" y2="472.8" stroke="#1a1a1a" stroke-width="0.95"/>
<line x1="620.8" y1="471.4" x2="620.8" y2="474.2" stroke="#1a1a1a" stroke-width="0.95"/>
<line x1="617.8" y1="471.4" x2="623.8" y2="471.4" stroke="#1a1a1a" stroke-width="0.95"/>
<line x1="617.8" y1="474.2" x2="623.8" y2="474.2" stroke="#1a1a1a" stroke-width="0.95"/>
<circle cx="616.8" cy="470.3" r="2.55" fill="#fff" stroke="#2a2a2a" stroke-width="0.8"/>
<circle cx="619.7" cy="472.6" r="2.55" fill="#fff" stroke="#2a2a2a" stroke-width="0.8"/>
<circle cx="622.6" cy="473.4" r="2.55" fill="#fff" stroke="#2a2a2a" stroke-width="0.8"/>
<circle cx="626.0" cy="475.5" r="2.55" fill="#fff" stroke="#2a2a2a" stroke-width="0.8"/>
<line x1="636.0999999999999" y1="462.5" x2="651.5" y2="462.5" stroke="#1a1a1a" stroke-width="0.95"/>
<line x1="643.8" y1="452.3" x2="643.8" y2="472.4" stroke="#1a1a1a" stroke-width="0.95"/>
<line x1="639.9" y1="452.3" x2="647.6999999999999" y2="452.3" stroke="#1a1a1a" stroke-width="0.95"/>
<line x1="639.9" y1="472.4" x2="647.6999999999999" y2="472.4" stroke="#1a1a1a" stroke-width="0.95"/>
<circle cx="644.0" cy="437.2" r="2.6" fill="#999" stroke="#3a3a3a" stroke-width="0.8"/>
<circle cx="644.0" cy="458.1" r="2.6" fill="#999" stroke="#3a3a3a" stroke-width="0.8"/>
<circle cx="644.0" cy="468.3" r="2.6" fill="#999" stroke="#3a3a3a" stroke-width="0.8"/>
<circle cx="644.0" cy="483.7" r="2.6" fill="#999" stroke="#3a3a3a" stroke-width="0.8"/>
<line x1="659.1999999999999" y1="468.5" x2="674.4" y2="468.5" stroke="#1a1a1a" stroke-width="0.95"/>
<line x1="666.8" y1="463.9" x2="666.8" y2="472.4" stroke="#1a1a1a" stroke-width="0.95"/>
<line x1="662.9" y1="463.9" x2="670.6999999999999" y2="463.9" stroke="#1a1a1a" stroke-width="0.95"/>
<line x1="662.9" y1="472.4" x2="670.6999999999999" y2="472.4" stroke="#1a1a1a" stroke-width="0.95"/>
<circle cx="666.5" cy="457.1" r="2.85" fill="#000"/>
<circle cx="661.9" cy="471.2" r="2.85" fill="#000"/>
<circle cx="666.6" cy="472.5" r="2.85" fill="#000"/>
<circle cx="671.2" cy="472.9" r="2.85" fill="#000"/>
<polyline points="562.4,411.9 562.4,403.0 644.0,403.0 644.0,410.9" fill="none" stroke="#1a1a1a" stroke-width="1.0"/>
<text x="603.2" y="401.624" font-size="9.0" text-anchor="middle" font-weight="bold">*</text>
<polyline points="538.5,429.7 538.5,421.2 621.2,421.2 621.2,429.0" fill="none" stroke="#1a1a1a" stroke-width="1.0"/>
<text x="579.85" y="419.824" font-size="9.0" text-anchor="middle" font-weight="bold">*</text>
<polyline points="538.5,445.8 538.5,437.2 581.9,437.2 581.9,444.4" fill="none" stroke="#1a1a1a" stroke-width="1.0"/>
<text x="560.2" y="435.824" font-size="9.0" text-anchor="middle" font-weight="bold">*</text>
<text x="538.83" y="537.63" font-size="8.7" text-anchor="middle" transform="rotate(-45 538.83 537.63)">+/+</text>
<text x="621.83" y="537.63" font-size="8.7" text-anchor="middle" transform="rotate(-45 621.83 537.63)">+/+</text>
<text x="561.83" y="538.13" font-size="8.7" text-anchor="middle" transform="rotate(-45 561.83 538.13)">&#916;/+</text>
<text x="645.33" y="538.13" font-size="8.7" text-anchor="middle" transform="rotate(-45 645.33 538.13)">&#916;/+</text>
<text x="584.03" y="538.23" font-size="8.7" text-anchor="middle" transform="rotate(-45 584.03 538.23)">&#916;/&#916;</text>
<text x="667.43" y="538.23" font-size="8.7" text-anchor="middle" transform="rotate(-45 667.43 538.23)">&#916;/&#916;</text>
<line x1="529.3" y1="548.7" x2="592.6" y2="548.7" stroke="#1a1a1a" stroke-width="1.3"/>
<line x1="613.9" y1="548.7" x2="676.3" y2="548.7" stroke="#1a1a1a" stroke-width="1.3"/>
<text x="561.0" y="560.0" font-size="9.3" text-anchor="middle">RK</text>
<text x="646.0" y="560.0" font-size="9.3" text-anchor="middle">LK</text>
</g>
</svg>
</body></html>
